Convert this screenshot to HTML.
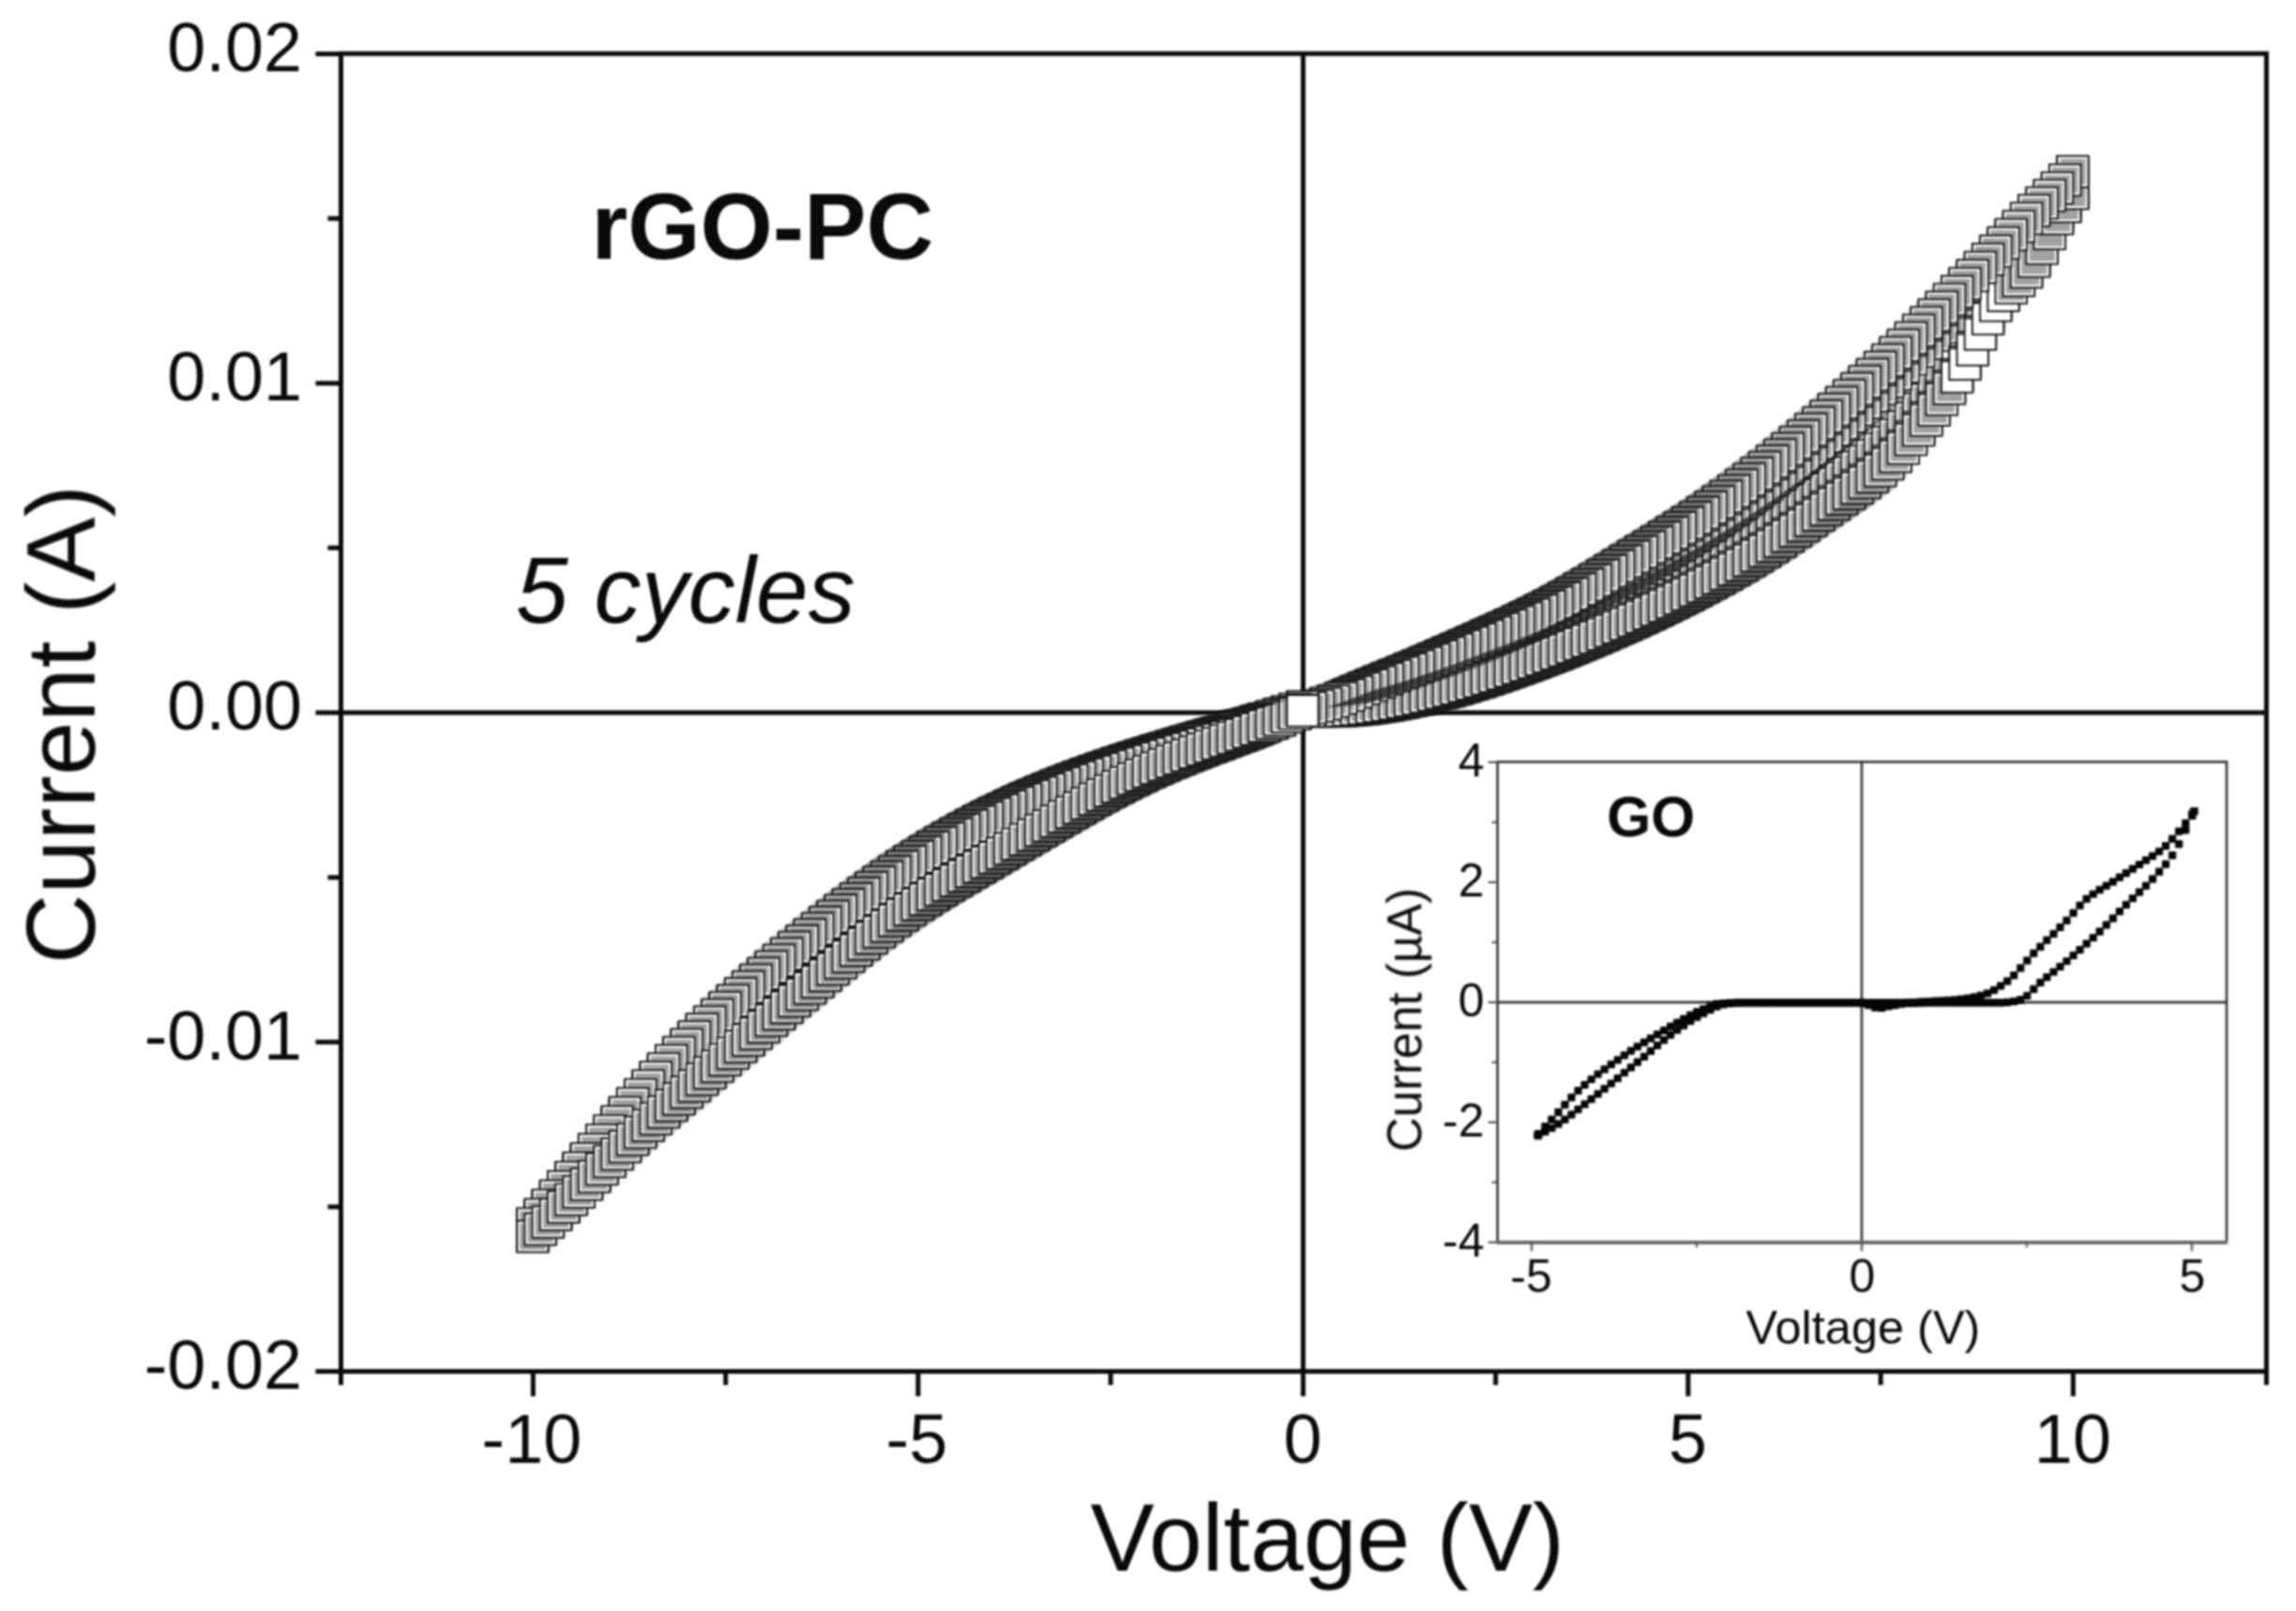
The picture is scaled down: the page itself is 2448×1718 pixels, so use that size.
<!DOCTYPE html>
<html lang="en"><head><meta charset="utf-8"><title>I-V curves: rGO-PC and GO</title>
<style>html,body{margin:0;padding:0;background:#fff}svg{display:block}text{font-family:"Liberation Sans",sans-serif;fill:#0a0a0a}.ax{stroke:#0a0a0a;stroke-width:5.0;fill:none}.iax{stroke:#333;stroke-width:2.6;fill:none}.itk{stroke:#555;stroke-width:2.2;fill:none}.tl{font-size:73.8px}.il{font-size:50px;fill:#1a1a1a}</style></head><body>
<svg width="2448" height="1718" viewBox="0 0 2448 1718" role="img" aria-label="I-V curves of rGO-PC (5 cycles) with GO inset">
<rect width="2448" height="1718" fill="#fff"/>
<defs><g id="s"><rect x="-16.8" y="-16.8" width="33.5" height="33.5" fill="#fff" stroke="#111" stroke-width="1.9"/><rect x="-13.7" y="-13.7" width="27.3" height="27.3" fill="#a2a2a2"/></g><rect id="w" x="-16.8" y="-16.8" width="33.5" height="33.5" fill="#fff" stroke="#111" stroke-width="1.9"/><rect id="d" x="-4.1" y="-4.1" width="8.2" height="8.2" rx="1.2" fill="#050505"/><filter id="b1" x="0" y="0" width="100%" height="100%" filterUnits="userSpaceOnUse" color-interpolation-filters="sRGB"><feGaussianBlur stdDeviation="0.8"/></filter><filter id="b2" x="0" y="0" width="100%" height="100%" filterUnits="userSpaceOnUse" color-interpolation-filters="sRGB"><feGaussianBlur stdDeviation="0.8"/></filter></defs>
<g filter="url(#b2)">
<g class="ax">
<rect x="363.5" y="57.2" width="2053.0" height="1405.3"/>
<path d="M1389.4 57.2V1462.5 M363.5 760.0H2416.5"/>
<path d="M568.4 1462.5v26.5 M978.9 1462.5v26.5 M1389.4 1462.5v26.5 M1799.9 1462.5v26.5 M2210.4 1462.5v26.5 M363.5 1462.5v14.5 M773.7 1462.5v14.5 M1184.2 1462.5v14.5 M1594.7 1462.5v14.5 M2005.2 1462.5v14.5 M2416.5 1462.5v14.5 M363.5 1462.6h-27 M363.5 1111.3h-27 M363.5 760h-27 M363.5 408.7h-27 M363.5 57.4h-27 M363.5 1287h-14 M363.5 935.7h-14 M363.5 584.3h-14 M363.5 233h-14"/>
</g>
<g class="tl">
<text x="322" y="75.8" text-anchor="end">0.02</text>
<text x="322" y="427.1" text-anchor="end">0.01</text>
<text x="322" y="778.4" text-anchor="end">0.00</text>
<text x="322" y="1129.7" text-anchor="end">-0.01</text>
<text x="322" y="1481" text-anchor="end">-0.02</text>
<text x="566.9" y="1560" text-anchor="middle">-10</text>
<text x="977.4" y="1560" text-anchor="middle">-5</text>
<text x="1388.9" y="1560" text-anchor="middle">0</text>
<text x="1799.4" y="1560" text-anchor="middle">5</text>
<text x="2209.9" y="1560" text-anchor="middle">10</text>
</g>
<text x="1415.3" y="1675" text-anchor="middle" font-size="102.2">Voltage (V)</text>
<text transform="translate(100.8 772.5) rotate(-90)" text-anchor="middle" font-size="103.3">Current (A)</text>
<text x="630.5" y="275.8" font-size="99.5" font-weight="bold">rGO-PC</text>
<text x="550" y="663.5" font-size="100.2" font-style="italic">5 cycles</text>
</g>
<g filter="url(#b1)">
<use href="#s" x="1389" y="758"/>
<use href="#s" x="1397.2" y="757.2"/>
<use href="#s" x="1405.4" y="756.1"/>
<use href="#s" x="1413.6" y="754.5"/>
<use href="#s" x="1421.8" y="752.5"/>
<use href="#s" x="1430" y="750.1"/>
<use href="#s" x="1438.3" y="747.3"/>
<use href="#s" x="1446.5" y="745.8"/>
<use href="#s" x="1454.7" y="744.2"/>
<use href="#s" x="1462.9" y="742.5"/>
<use href="#s" x="1471.1" y="740.8"/>
<use href="#s" x="1479.3" y="738.9"/>
<use href="#s" x="1487.5" y="736.9"/>
<use href="#s" x="1495.7" y="734.9"/>
<use href="#s" x="1503.9" y="732.7"/>
<use href="#s" x="1512.2" y="730.4"/>
<use href="#s" x="1520.4" y="728.1"/>
<use href="#s" x="1528.6" y="725.6"/>
<use href="#s" x="1536.8" y="723.1"/>
<use href="#s" x="1545" y="720.5"/>
<use href="#s" x="1553.2" y="717.8"/>
<use href="#s" x="1561.4" y="715"/>
<use href="#s" x="1569.6" y="712.2"/>
<use href="#s" x="1577.8" y="709.4"/>
<use href="#s" x="1586" y="706.4"/>
<use href="#s" x="1594.2" y="703.5"/>
<use href="#s" x="1602.5" y="700.4"/>
<use href="#s" x="1610.7" y="697.3"/>
<use href="#s" x="1618.9" y="694.2"/>
<use href="#s" x="1627.1" y="690.9"/>
<use href="#s" x="1635.3" y="687.6"/>
<use href="#s" x="1643.5" y="684.2"/>
<use href="#s" x="1651.7" y="680.8"/>
<use href="#s" x="1659.9" y="677.3"/>
<use href="#s" x="1668.1" y="673.7"/>
<use href="#s" x="1676.3" y="670"/>
<use href="#s" x="1684.6" y="666.3"/>
<use href="#s" x="1692.8" y="662.5"/>
<use href="#s" x="1701" y="658.7"/>
<use href="#s" x="1709.2" y="654.8"/>
<use href="#s" x="1717.4" y="650.8"/>
<use href="#s" x="1725.6" y="646.9"/>
<use href="#s" x="1733.8" y="642.8"/>
<use href="#s" x="1742" y="638.8"/>
<use href="#s" x="1750.2" y="634.7"/>
<use href="#s" x="1758.5" y="630.5"/>
<use href="#s" x="1766.7" y="626.3"/>
<use href="#s" x="1774.9" y="622.1"/>
<use href="#s" x="1783.1" y="617.8"/>
<use href="#s" x="1791.3" y="613.4"/>
<use href="#s" x="1799.5" y="609"/>
<use href="#s" x="1807.7" y="604.4"/>
<use href="#s" x="1815.9" y="599.8"/>
<use href="#s" x="1824.1" y="595.1"/>
<use href="#s" x="1832.3" y="590.3"/>
<use href="#s" x="1840.5" y="585.4"/>
<use href="#s" x="1848.8" y="580.4"/>
<use href="#s" x="1857" y="575.4"/>
<use href="#s" x="1865.2" y="570.2"/>
<use href="#s" x="1873.4" y="564.8"/>
<use href="#s" x="1881.6" y="559.4"/>
<use href="#s" x="1889.8" y="553.9"/>
<use href="#s" x="1898" y="548.3"/>
<use href="#s" x="1906.2" y="542.5"/>
<use href="#s" x="1914.4" y="536.7"/>
<use href="#s" x="1922.7" y="530.7"/>
<use href="#s" x="1930.9" y="524.7"/>
<use href="#s" x="1939.1" y="518.7"/>
<use href="#s" x="1947.3" y="512.6"/>
<use href="#s" x="1955.5" y="506.5"/>
<use href="#s" x="1963.7" y="500.4"/>
<use href="#s" x="1971.9" y="494.3"/>
<use href="#s" x="1980.1" y="488.1"/>
<use href="#s" x="1988.3" y="481.8"/>
<use href="#s" x="1996.5" y="475.3"/>
<use href="#s" x="2004.8" y="468.4"/>
<use href="#s" x="2013" y="461"/>
<use href="#s" x="2021.2" y="453.1"/>
<use href="#s" x="2029.4" y="444.7"/>
<use href="#s" x="2037.6" y="435.6"/>
<use href="#s" x="2045.8" y="426.1"/>
<use href="#s" x="2054" y="416.2"/>
<use href="#s" x="2062.2" y="406"/>
<use href="#s" x="2070.4" y="395.5"/>
<use href="#s" x="2078.6" y="384.6"/>
<use href="#w" x="2086.8" y="373.3"/>
<use href="#w" x="2095.1" y="360.9"/>
<use href="#w" x="2103.3" y="347.3"/>
<use href="#w" x="2111.5" y="332.6"/>
<use href="#w" x="2119.7" y="318.2"/>
<use href="#w" x="2127.9" y="305.4"/>
<use href="#w" x="2136.1" y="296.2"/>
<use href="#s" x="2144.3" y="288.8"/>
<use href="#s" x="2152.5" y="281.9"/>
<use href="#s" x="2160.7" y="273.9"/>
<use href="#s" x="2168.9" y="264"/>
<use href="#s" x="2177.2" y="252.2"/>
<use href="#s" x="2185.4" y="238.7"/>
<use href="#s" x="2193.6" y="224.7"/>
<use href="#s" x="2201.8" y="213.2"/>
<use href="#s" x="2210" y="200.5"/>
<use href="#s" x="2210" y="189"/>
<use href="#s" x="2201.8" y="199.3"/>
<use href="#s" x="2193.6" y="209"/>
<use href="#s" x="2185.4" y="219"/>
<use href="#s" x="2177.2" y="229.2"/>
<use href="#s" x="2168.9" y="239.3"/>
<use href="#s" x="2160.7" y="249.2"/>
<use href="#s" x="2152.5" y="258.9"/>
<use href="#s" x="2144.3" y="268.5"/>
<use href="#s" x="2136.1" y="278.1"/>
<use href="#s" x="2127.9" y="288.4"/>
<use href="#s" x="2119.7" y="298.5"/>
<use href="#s" x="2111.5" y="309.1"/>
<use href="#s" x="2103.3" y="319.7"/>
<use href="#s" x="2095.1" y="330"/>
<use href="#s" x="2086.8" y="339.7"/>
<use href="#s" x="2078.6" y="349.1"/>
<use href="#s" x="2070.4" y="358.3"/>
<use href="#s" x="2062.2" y="367.3"/>
<use href="#s" x="2054" y="376.2"/>
<use href="#s" x="2045.8" y="384.9"/>
<use href="#s" x="2037.6" y="393.5"/>
<use href="#s" x="2029.4" y="401.8"/>
<use href="#s" x="2021.2" y="409.9"/>
<use href="#s" x="2013" y="417.7"/>
<use href="#s" x="2004.8" y="425.3"/>
<use href="#s" x="1996.5" y="432.7"/>
<use href="#s" x="1988.3" y="440"/>
<use href="#s" x="1980.1" y="447.1"/>
<use href="#s" x="1971.9" y="454.1"/>
<use href="#s" x="1963.7" y="461.1"/>
<use href="#s" x="1955.5" y="467.9"/>
<use href="#s" x="1947.3" y="474.8"/>
<use href="#s" x="1939.1" y="481.6"/>
<use href="#s" x="1930.9" y="488.3"/>
<use href="#s" x="1922.7" y="494.9"/>
<use href="#s" x="1914.4" y="501.5"/>
<use href="#s" x="1906.2" y="507.9"/>
<use href="#s" x="1898" y="514.3"/>
<use href="#s" x="1889.8" y="520.6"/>
<use href="#s" x="1881.6" y="526.8"/>
<use href="#s" x="1873.4" y="532.9"/>
<use href="#s" x="1865.2" y="538.8"/>
<use href="#s" x="1857" y="544.7"/>
<use href="#s" x="1848.8" y="550.5"/>
<use href="#s" x="1840.5" y="556.1"/>
<use href="#s" x="1832.3" y="561.6"/>
<use href="#s" x="1824.1" y="567"/>
<use href="#s" x="1815.9" y="572.4"/>
<use href="#s" x="1807.7" y="577.6"/>
<use href="#s" x="1799.5" y="582.7"/>
<use href="#s" x="1791.3" y="587.7"/>
<use href="#s" x="1783.1" y="592.6"/>
<use href="#s" x="1774.9" y="597.5"/>
<use href="#s" x="1766.7" y="602.3"/>
<use href="#s" x="1758.5" y="607.1"/>
<use href="#s" x="1750.2" y="611.8"/>
<use href="#s" x="1742" y="616.6"/>
<use href="#s" x="1733.8" y="621.3"/>
<use href="#s" x="1725.6" y="626"/>
<use href="#s" x="1717.4" y="630.7"/>
<use href="#s" x="1709.2" y="635.3"/>
<use href="#s" x="1701" y="639.9"/>
<use href="#s" x="1692.8" y="644.5"/>
<use href="#s" x="1684.6" y="649"/>
<use href="#s" x="1676.3" y="653.4"/>
<use href="#s" x="1668.1" y="657.7"/>
<use href="#s" x="1659.9" y="662"/>
<use href="#s" x="1651.7" y="666.1"/>
<use href="#s" x="1643.5" y="670.1"/>
<use href="#s" x="1635.3" y="674"/>
<use href="#s" x="1627.1" y="677.8"/>
<use href="#s" x="1618.9" y="681.5"/>
<use href="#s" x="1610.7" y="685.1"/>
<use href="#s" x="1602.5" y="688.6"/>
<use href="#s" x="1594.2" y="692.1"/>
<use href="#s" x="1586" y="695.5"/>
<use href="#s" x="1577.8" y="698.9"/>
<use href="#s" x="1569.6" y="702.3"/>
<use href="#s" x="1561.4" y="705.6"/>
<use href="#s" x="1553.2" y="709"/>
<use href="#s" x="1545" y="712.3"/>
<use href="#s" x="1536.8" y="715.5"/>
<use href="#s" x="1528.6" y="718.8"/>
<use href="#s" x="1520.4" y="721.9"/>
<use href="#s" x="1512.2" y="725.1"/>
<use href="#s" x="1503.9" y="728.1"/>
<use href="#s" x="1495.7" y="731.1"/>
<use href="#s" x="1487.5" y="734"/>
<use href="#s" x="1479.3" y="736.9"/>
<use href="#s" x="1471.1" y="739.8"/>
<use href="#s" x="1462.9" y="742.7"/>
<use href="#s" x="1454.7" y="745.6"/>
<use href="#s" x="1446.5" y="748.4"/>
<use href="#s" x="1438.3" y="751.3"/>
<use href="#s" x="1430" y="752.4"/>
<use href="#s" x="1421.8" y="753.5"/>
<use href="#s" x="1413.6" y="754.5"/>
<use href="#s" x="1405.4" y="755.4"/>
<use href="#s" x="1397.2" y="756.1"/>
<use href="#s" x="1389" y="756.7"/>
<use href="#s" x="1389" y="753.8"/>
<use href="#s" x="1380.8" y="757.2"/>
<use href="#s" x="1372.6" y="760.6"/>
<use href="#s" x="1364.4" y="763.9"/>
<use href="#s" x="1356.2" y="767.1"/>
<use href="#s" x="1348" y="770.3"/>
<use href="#s" x="1339.7" y="773.5"/>
<use href="#s" x="1331.5" y="776"/>
<use href="#s" x="1323.3" y="778.4"/>
<use href="#s" x="1315.1" y="780.9"/>
<use href="#s" x="1306.9" y="783.3"/>
<use href="#s" x="1298.7" y="785.7"/>
<use href="#s" x="1290.5" y="788.1"/>
<use href="#s" x="1282.3" y="790.5"/>
<use href="#s" x="1274.1" y="792.9"/>
<use href="#s" x="1265.8" y="795.3"/>
<use href="#s" x="1257.6" y="797.7"/>
<use href="#s" x="1249.4" y="800.2"/>
<use href="#s" x="1241.2" y="802.7"/>
<use href="#s" x="1233" y="805.2"/>
<use href="#s" x="1224.8" y="807.7"/>
<use href="#s" x="1216.6" y="810.3"/>
<use href="#s" x="1208.4" y="812.9"/>
<use href="#s" x="1200.2" y="815.6"/>
<use href="#s" x="1192" y="818.3"/>
<use href="#s" x="1183.8" y="821.1"/>
<use href="#s" x="1175.5" y="824"/>
<use href="#s" x="1167.3" y="826.9"/>
<use href="#s" x="1159.1" y="829.8"/>
<use href="#s" x="1150.9" y="832.9"/>
<use href="#s" x="1142.7" y="836"/>
<use href="#s" x="1134.5" y="839.2"/>
<use href="#s" x="1126.3" y="842.4"/>
<use href="#s" x="1118.1" y="845.8"/>
<use href="#s" x="1109.9" y="849.2"/>
<use href="#s" x="1101.7" y="852.8"/>
<use href="#s" x="1093.4" y="856.4"/>
<use href="#s" x="1085.2" y="860.1"/>
<use href="#s" x="1077" y="863.9"/>
<use href="#s" x="1068.8" y="867.8"/>
<use href="#s" x="1060.6" y="871.8"/>
<use href="#s" x="1052.4" y="875.9"/>
<use href="#s" x="1044.2" y="880.1"/>
<use href="#s" x="1036" y="884.4"/>
<use href="#s" x="1027.8" y="888.8"/>
<use href="#s" x="1019.5" y="893.4"/>
<use href="#s" x="1011.3" y="898"/>
<use href="#s" x="1003.1" y="902.8"/>
<use href="#s" x="994.9" y="907.6"/>
<use href="#s" x="986.7" y="912.6"/>
<use href="#s" x="978.5" y="917.7"/>
<use href="#s" x="970.3" y="922.9"/>
<use href="#s" x="962.1" y="928.3"/>
<use href="#s" x="953.9" y="933.7"/>
<use href="#s" x="945.7" y="939.3"/>
<use href="#s" x="937.5" y="944.9"/>
<use href="#s" x="929.2" y="950.7"/>
<use href="#s" x="921" y="956.7"/>
<use href="#s" x="912.8" y="962.7"/>
<use href="#s" x="904.6" y="968.8"/>
<use href="#s" x="896.4" y="975"/>
<use href="#s" x="888.2" y="981.4"/>
<use href="#s" x="880" y="987.8"/>
<use href="#s" x="871.8" y="994.4"/>
<use href="#s" x="863.6" y="1001"/>
<use href="#s" x="855.4" y="1007.7"/>
<use href="#s" x="847.1" y="1014.5"/>
<use href="#s" x="838.9" y="1021.3"/>
<use href="#s" x="830.7" y="1028.2"/>
<use href="#s" x="822.5" y="1035.2"/>
<use href="#s" x="814.3" y="1042.3"/>
<use href="#s" x="806.1" y="1049.4"/>
<use href="#s" x="797.9" y="1056.6"/>
<use href="#s" x="789.7" y="1063.8"/>
<use href="#s" x="781.5" y="1071.2"/>
<use href="#s" x="773.2" y="1078.7"/>
<use href="#s" x="765" y="1086.3"/>
<use href="#s" x="756.8" y="1094"/>
<use href="#s" x="748.6" y="1101.8"/>
<use href="#s" x="740.4" y="1109.9"/>
<use href="#s" x="732.2" y="1118.1"/>
<use href="#s" x="724" y="1126.5"/>
<use href="#s" x="715.8" y="1135.1"/>
<use href="#s" x="707.6" y="1144"/>
<use href="#s" x="699.4" y="1153"/>
<use href="#s" x="691.2" y="1162.1"/>
<use href="#s" x="682.9" y="1171.5"/>
<use href="#s" x="674.7" y="1181"/>
<use href="#s" x="666.5" y="1190.6"/>
<use href="#s" x="658.3" y="1200.3"/>
<use href="#s" x="650.1" y="1210.1"/>
<use href="#s" x="641.9" y="1220"/>
<use href="#s" x="633.7" y="1229.9"/>
<use href="#s" x="625.5" y="1239.8"/>
<use href="#s" x="617.3" y="1249.7"/>
<use href="#s" x="609.1" y="1259.7"/>
<use href="#s" x="600.8" y="1269.6"/>
<use href="#s" x="592.6" y="1279.5"/>
<use href="#s" x="584.4" y="1289.4"/>
<use href="#s" x="576.2" y="1299.3"/>
<use href="#s" x="568" y="1309.2"/>
<use href="#s" x="568" y="1314.7"/>
<use href="#s" x="576.2" y="1307"/>
<use href="#s" x="584.4" y="1299.2"/>
<use href="#s" x="592.6" y="1291.3"/>
<use href="#s" x="600.8" y="1283.3"/>
<use href="#s" x="609.1" y="1275.3"/>
<use href="#s" x="617.3" y="1267.2"/>
<use href="#s" x="625.5" y="1259"/>
<use href="#s" x="633.7" y="1250.8"/>
<use href="#s" x="641.9" y="1242.7"/>
<use href="#s" x="650.1" y="1234.6"/>
<use href="#s" x="658.3" y="1226.7"/>
<use href="#s" x="666.5" y="1218.8"/>
<use href="#s" x="674.7" y="1211.1"/>
<use href="#s" x="682.9" y="1203.6"/>
<use href="#s" x="691.2" y="1196.2"/>
<use href="#s" x="699.4" y="1189"/>
<use href="#s" x="707.6" y="1181.9"/>
<use href="#s" x="715.8" y="1174.8"/>
<use href="#s" x="724" y="1167.9"/>
<use href="#s" x="732.2" y="1160.9"/>
<use href="#s" x="740.4" y="1154"/>
<use href="#s" x="748.6" y="1147"/>
<use href="#s" x="756.8" y="1140.1"/>
<use href="#s" x="765" y="1133.1"/>
<use href="#s" x="773.2" y="1126.1"/>
<use href="#s" x="781.5" y="1119.1"/>
<use href="#s" x="789.7" y="1112.1"/>
<use href="#s" x="797.9" y="1105.1"/>
<use href="#s" x="806.1" y="1098.1"/>
<use href="#s" x="814.3" y="1091.1"/>
<use href="#s" x="822.5" y="1084.1"/>
<use href="#s" x="830.7" y="1077.2"/>
<use href="#s" x="838.9" y="1070.3"/>
<use href="#s" x="847.1" y="1063.4"/>
<use href="#s" x="855.4" y="1056.6"/>
<use href="#s" x="863.6" y="1049.8"/>
<use href="#s" x="871.8" y="1043"/>
<use href="#s" x="880" y="1036.2"/>
<use href="#s" x="888.2" y="1029.4"/>
<use href="#s" x="896.4" y="1022.7"/>
<use href="#s" x="904.6" y="1016"/>
<use href="#s" x="912.8" y="1009.3"/>
<use href="#s" x="921" y="1002.7"/>
<use href="#s" x="929.2" y="996.2"/>
<use href="#s" x="937.5" y="989.8"/>
<use href="#s" x="945.7" y="983.6"/>
<use href="#s" x="953.9" y="977.6"/>
<use href="#s" x="962.1" y="971.7"/>
<use href="#s" x="970.3" y="966"/>
<use href="#s" x="978.5" y="960.5"/>
<use href="#s" x="986.7" y="955.2"/>
<use href="#s" x="994.9" y="950"/>
<use href="#s" x="1003.1" y="945"/>
<use href="#s" x="1011.3" y="940"/>
<use href="#s" x="1019.5" y="935.1"/>
<use href="#s" x="1027.8" y="930.2"/>
<use href="#s" x="1036" y="925.4"/>
<use href="#s" x="1044.2" y="920.5"/>
<use href="#s" x="1052.4" y="915.7"/>
<use href="#s" x="1060.6" y="910.8"/>
<use href="#s" x="1068.8" y="906"/>
<use href="#s" x="1077" y="901.1"/>
<use href="#s" x="1085.2" y="896.2"/>
<use href="#s" x="1093.4" y="891.4"/>
<use href="#s" x="1101.7" y="886.5"/>
<use href="#s" x="1109.9" y="881.6"/>
<use href="#s" x="1118.1" y="876.8"/>
<use href="#s" x="1126.3" y="871.9"/>
<use href="#s" x="1134.5" y="867.1"/>
<use href="#s" x="1142.7" y="862.4"/>
<use href="#s" x="1150.9" y="857.6"/>
<use href="#s" x="1159.1" y="853"/>
<use href="#s" x="1167.3" y="848.3"/>
<use href="#s" x="1175.5" y="843.8"/>
<use href="#s" x="1183.8" y="839.4"/>
<use href="#s" x="1192" y="835"/>
<use href="#s" x="1200.2" y="830.8"/>
<use href="#s" x="1208.4" y="826.7"/>
<use href="#s" x="1216.6" y="822.7"/>
<use href="#s" x="1224.8" y="818.9"/>
<use href="#s" x="1233" y="815.2"/>
<use href="#s" x="1241.2" y="811.6"/>
<use href="#s" x="1249.4" y="808.1"/>
<use href="#s" x="1257.6" y="804.8"/>
<use href="#s" x="1265.8" y="801.5"/>
<use href="#s" x="1274.1" y="798.3"/>
<use href="#s" x="1282.3" y="795.2"/>
<use href="#s" x="1290.5" y="792.1"/>
<use href="#s" x="1298.7" y="789"/>
<use href="#s" x="1306.9" y="786"/>
<use href="#s" x="1315.1" y="782.9"/>
<use href="#s" x="1323.3" y="779.8"/>
<use href="#s" x="1331.5" y="776.7"/>
<use href="#s" x="1339.7" y="773.6"/>
<use href="#s" x="1348" y="771"/>
<use href="#s" x="1356.2" y="768.4"/>
<use href="#s" x="1364.4" y="765.7"/>
<use href="#s" x="1372.6" y="763"/>
<use href="#s" x="1380.8" y="760.2"/>
<use href="#s" x="1389" y="757.3"/>
<use href="#s" x="1389" y="758"/>
<use href="#s" x="1397.2" y="757.6"/>
<use href="#s" x="1405.4" y="757"/>
<use href="#s" x="1413.6" y="756.3"/>
<use href="#s" x="1421.8" y="755.3"/>
<use href="#s" x="1430" y="754.1"/>
<use href="#s" x="1438.3" y="752.8"/>
<use href="#s" x="1446.5" y="752"/>
<use href="#s" x="1454.7" y="751.1"/>
<use href="#s" x="1462.9" y="750"/>
<use href="#s" x="1471.1" y="748.7"/>
<use href="#s" x="1479.3" y="747.4"/>
<use href="#s" x="1487.5" y="745.9"/>
<use href="#s" x="1495.7" y="744.2"/>
<use href="#s" x="1503.9" y="742.5"/>
<use href="#s" x="1512.2" y="740.6"/>
<use href="#s" x="1520.4" y="738.6"/>
<use href="#s" x="1528.6" y="736.5"/>
<use href="#s" x="1536.8" y="734.3"/>
<use href="#s" x="1545" y="732.1"/>
<use href="#s" x="1553.2" y="729.7"/>
<use href="#s" x="1561.4" y="727.2"/>
<use href="#s" x="1569.6" y="724.7"/>
<use href="#s" x="1577.8" y="722.1"/>
<use href="#s" x="1586" y="719.4"/>
<use href="#s" x="1594.2" y="716.7"/>
<use href="#s" x="1602.5" y="713.8"/>
<use href="#s" x="1610.7" y="710.9"/>
<use href="#s" x="1618.9" y="708"/>
<use href="#s" x="1627.1" y="705"/>
<use href="#s" x="1635.3" y="701.9"/>
<use href="#s" x="1643.5" y="698.8"/>
<use href="#s" x="1651.7" y="695.6"/>
<use href="#s" x="1659.9" y="692.4"/>
<use href="#s" x="1668.1" y="689.1"/>
<use href="#s" x="1676.3" y="685.8"/>
<use href="#s" x="1684.6" y="682.4"/>
<use href="#s" x="1692.8" y="679"/>
<use href="#s" x="1701" y="675.5"/>
<use href="#s" x="1709.2" y="672"/>
<use href="#s" x="1717.4" y="668.4"/>
<use href="#s" x="1725.6" y="664.8"/>
<use href="#s" x="1733.8" y="661.1"/>
<use href="#s" x="1742" y="657.4"/>
<use href="#s" x="1750.2" y="653.6"/>
<use href="#s" x="1758.5" y="649.8"/>
<use href="#s" x="1766.7" y="645.9"/>
<use href="#s" x="1774.9" y="641.9"/>
<use href="#s" x="1783.1" y="637.9"/>
<use href="#s" x="1791.3" y="633.8"/>
<use href="#s" x="1799.5" y="629.6"/>
<use href="#s" x="1807.7" y="625.4"/>
<use href="#s" x="1815.9" y="621"/>
<use href="#s" x="1824.1" y="616.6"/>
<use href="#s" x="1832.3" y="612.2"/>
<use href="#s" x="1840.5" y="607.6"/>
<use href="#s" x="1848.8" y="602.9"/>
<use href="#s" x="1857" y="598.2"/>
<use href="#s" x="1865.2" y="593.3"/>
<use href="#s" x="1873.4" y="588.3"/>
<use href="#s" x="1881.6" y="583.3"/>
<use href="#s" x="1889.8" y="578.1"/>
<use href="#s" x="1898" y="572.7"/>
<use href="#s" x="1906.2" y="567.3"/>
<use href="#s" x="1914.4" y="561.8"/>
<use href="#s" x="1922.7" y="556.1"/>
<use href="#s" x="1930.9" y="550.5"/>
<use href="#s" x="1939.1" y="544.7"/>
<use href="#s" x="1947.3" y="539"/>
<use href="#s" x="1955.5" y="533.2"/>
<use href="#s" x="1963.7" y="527.5"/>
<use href="#s" x="1971.9" y="521.9"/>
<use href="#s" x="1980.1" y="516.1"/>
<use href="#s" x="1988.3" y="510.2"/>
<use href="#s" x="1996.5" y="504"/>
<use href="#s" x="2004.8" y="497.4"/>
<use href="#s" x="2013" y="490.2"/>
<use href="#s" x="2021.2" y="482.3"/>
<use href="#s" x="2029.4" y="473.6"/>
<use href="#s" x="2037.6" y="464.2"/>
<use href="#s" x="2045.8" y="454.2"/>
<use href="#s" x="2054" y="443.7"/>
<use href="#s" x="2062.2" y="432.8"/>
<use href="#s" x="2070.4" y="421.5"/>
<use href="#s" x="2078.6" y="409.9"/>
<use href="#w" x="2086.8" y="397.5"/>
<use href="#w" x="2095.1" y="383.9"/>
<use href="#w" x="2103.3" y="368.6"/>
<use href="#w" x="2111.5" y="351.9"/>
<use href="#w" x="2119.7" y="335.5"/>
<use href="#w" x="2127.9" y="321.4"/>
<use href="#w" x="2136.1" y="310.9"/>
<use href="#s" x="2144.3" y="302.9"/>
<use href="#s" x="2152.5" y="295.4"/>
<use href="#s" x="2160.7" y="286.5"/>
<use href="#s" x="2168.9" y="275.3"/>
<use href="#s" x="2177.2" y="261.7"/>
<use href="#s" x="2185.4" y="246.2"/>
<use href="#s" x="2193.6" y="230.5"/>
<use href="#s" x="2201.8" y="218"/>
<use href="#s" x="2210" y="204.1"/>
<use href="#s" x="2210" y="185.3"/>
<use href="#s" x="2201.8" y="194.6"/>
<use href="#s" x="2193.6" y="203.2"/>
<use href="#s" x="2185.4" y="211.5"/>
<use href="#s" x="2177.2" y="219.7"/>
<use href="#s" x="2168.9" y="228"/>
<use href="#s" x="2160.7" y="236.6"/>
<use href="#s" x="2152.5" y="245.4"/>
<use href="#s" x="2144.3" y="254.3"/>
<use href="#s" x="2136.1" y="263.4"/>
<use href="#s" x="2127.9" y="272.4"/>
<use href="#s" x="2119.7" y="281.1"/>
<use href="#s" x="2111.5" y="289.8"/>
<use href="#s" x="2103.3" y="298.4"/>
<use href="#s" x="2095.1" y="307"/>
<use href="#s" x="2086.8" y="315.5"/>
<use href="#s" x="2078.6" y="323.9"/>
<use href="#s" x="2070.4" y="332.2"/>
<use href="#s" x="2062.2" y="340.5"/>
<use href="#s" x="2054" y="348.7"/>
<use href="#s" x="2045.8" y="356.8"/>
<use href="#s" x="2037.6" y="364.9"/>
<use href="#s" x="2029.4" y="372.8"/>
<use href="#s" x="2021.2" y="380.7"/>
<use href="#s" x="2013" y="388.6"/>
<use href="#s" x="2004.8" y="396.3"/>
<use href="#s" x="1996.5" y="404"/>
<use href="#s" x="1988.3" y="411.6"/>
<use href="#s" x="1980.1" y="419.1"/>
<use href="#s" x="1971.9" y="426.5"/>
<use href="#s" x="1963.7" y="433.9"/>
<use href="#s" x="1955.5" y="441.2"/>
<use href="#s" x="1947.3" y="448.4"/>
<use href="#s" x="1939.1" y="455.5"/>
<use href="#s" x="1930.9" y="462.5"/>
<use href="#s" x="1922.7" y="469.5"/>
<use href="#s" x="1914.4" y="476.4"/>
<use href="#s" x="1906.2" y="483.1"/>
<use href="#s" x="1898" y="489.8"/>
<use href="#s" x="1889.8" y="496.4"/>
<use href="#s" x="1881.6" y="503"/>
<use href="#s" x="1873.4" y="509.4"/>
<use href="#s" x="1865.2" y="515.7"/>
<use href="#s" x="1857" y="521.9"/>
<use href="#s" x="1848.8" y="528"/>
<use href="#s" x="1840.5" y="533.9"/>
<use href="#s" x="1832.3" y="539.8"/>
<use href="#s" x="1824.1" y="545.5"/>
<use href="#s" x="1815.9" y="551.1"/>
<use href="#s" x="1807.7" y="556.6"/>
<use href="#s" x="1799.5" y="562"/>
<use href="#s" x="1791.3" y="567.3"/>
<use href="#s" x="1783.1" y="572.5"/>
<use href="#s" x="1774.9" y="577.7"/>
<use href="#s" x="1766.7" y="582.8"/>
<use href="#s" x="1758.5" y="587.9"/>
<use href="#s" x="1750.2" y="592.9"/>
<use href="#s" x="1742" y="598"/>
<use href="#s" x="1733.8" y="603"/>
<use href="#s" x="1725.6" y="608"/>
<use href="#s" x="1717.4" y="613.1"/>
<use href="#s" x="1709.2" y="618.1"/>
<use href="#s" x="1701" y="623.1"/>
<use href="#s" x="1692.8" y="628"/>
<use href="#s" x="1684.6" y="632.8"/>
<use href="#s" x="1676.3" y="637.6"/>
<use href="#s" x="1668.1" y="642.3"/>
<use href="#s" x="1659.9" y="646.8"/>
<use href="#s" x="1651.7" y="651.2"/>
<use href="#s" x="1643.5" y="655.5"/>
<use href="#s" x="1635.3" y="659.7"/>
<use href="#s" x="1627.1" y="663.7"/>
<use href="#s" x="1618.9" y="667.6"/>
<use href="#s" x="1610.7" y="671.4"/>
<use href="#s" x="1602.5" y="675.2"/>
<use href="#s" x="1594.2" y="678.9"/>
<use href="#s" x="1586" y="682.6"/>
<use href="#s" x="1577.8" y="686.2"/>
<use href="#s" x="1569.6" y="689.8"/>
<use href="#s" x="1561.4" y="693.4"/>
<use href="#s" x="1553.2" y="697.1"/>
<use href="#s" x="1545" y="700.7"/>
<use href="#s" x="1536.8" y="704.3"/>
<use href="#s" x="1528.6" y="707.8"/>
<use href="#s" x="1520.4" y="711.4"/>
<use href="#s" x="1512.2" y="714.9"/>
<use href="#s" x="1503.9" y="718.3"/>
<use href="#s" x="1495.7" y="721.7"/>
<use href="#s" x="1487.5" y="725.1"/>
<use href="#s" x="1479.3" y="728.4"/>
<use href="#s" x="1471.1" y="731.8"/>
<use href="#s" x="1462.9" y="735.2"/>
<use href="#s" x="1454.7" y="738.7"/>
<use href="#s" x="1446.5" y="742.3"/>
<use href="#s" x="1438.3" y="745.8"/>
<use href="#s" x="1430" y="748.4"/>
<use href="#s" x="1421.8" y="750.8"/>
<use href="#s" x="1413.6" y="752.8"/>
<use href="#s" x="1405.4" y="754.4"/>
<use href="#s" x="1397.2" y="755.7"/>
<use href="#s" x="1389" y="756.7"/>
<use href="#s" x="1389" y="753.8"/>
<use href="#s" x="1380.8" y="757"/>
<use href="#s" x="1372.6" y="760.2"/>
<use href="#s" x="1364.4" y="763.4"/>
<use href="#s" x="1356.2" y="766.5"/>
<use href="#s" x="1348" y="769.5"/>
<use href="#s" x="1339.7" y="772.5"/>
<use href="#s" x="1331.5" y="775"/>
<use href="#s" x="1323.3" y="777.4"/>
<use href="#s" x="1315.1" y="779.9"/>
<use href="#s" x="1306.9" y="782.3"/>
<use href="#s" x="1298.7" y="784.7"/>
<use href="#s" x="1290.5" y="787.1"/>
<use href="#s" x="1282.3" y="789.5"/>
<use href="#s" x="1274.1" y="791.9"/>
<use href="#s" x="1265.8" y="794.3"/>
<use href="#s" x="1257.6" y="796.7"/>
<use href="#s" x="1249.4" y="799.2"/>
<use href="#s" x="1241.2" y="801.7"/>
<use href="#s" x="1233" y="804.2"/>
<use href="#s" x="1224.8" y="806.7"/>
<use href="#s" x="1216.6" y="809.3"/>
<use href="#s" x="1208.4" y="811.9"/>
<use href="#s" x="1200.2" y="814.6"/>
<use href="#s" x="1192" y="817.3"/>
<use href="#s" x="1183.8" y="820.1"/>
<use href="#s" x="1175.5" y="823"/>
<use href="#s" x="1167.3" y="825.9"/>
<use href="#s" x="1159.1" y="828.8"/>
<use href="#s" x="1150.9" y="831.9"/>
<use href="#s" x="1142.7" y="835"/>
<use href="#s" x="1134.5" y="838.2"/>
<use href="#s" x="1126.3" y="841.4"/>
<use href="#s" x="1118.1" y="844.8"/>
<use href="#s" x="1109.9" y="848.2"/>
<use href="#s" x="1101.7" y="851.8"/>
<use href="#s" x="1093.4" y="855.4"/>
<use href="#s" x="1085.2" y="859.1"/>
<use href="#s" x="1077" y="862.9"/>
<use href="#s" x="1068.8" y="866.8"/>
<use href="#s" x="1060.6" y="870.8"/>
<use href="#s" x="1052.4" y="874.9"/>
<use href="#s" x="1044.2" y="879.1"/>
<use href="#s" x="1036" y="883.4"/>
<use href="#s" x="1027.8" y="887.8"/>
<use href="#s" x="1019.5" y="892.4"/>
<use href="#s" x="1011.3" y="897"/>
<use href="#s" x="1003.1" y="901.8"/>
<use href="#s" x="994.9" y="906.6"/>
<use href="#s" x="986.7" y="911.6"/>
<use href="#s" x="978.5" y="916.7"/>
<use href="#s" x="970.3" y="921.9"/>
<use href="#s" x="962.1" y="927.3"/>
<use href="#s" x="953.9" y="932.7"/>
<use href="#s" x="945.7" y="938.3"/>
<use href="#s" x="937.5" y="943.9"/>
<use href="#s" x="929.2" y="949.7"/>
<use href="#s" x="921" y="955.7"/>
<use href="#s" x="912.8" y="961.7"/>
<use href="#s" x="904.6" y="967.8"/>
<use href="#s" x="896.4" y="974"/>
<use href="#s" x="888.2" y="980.4"/>
<use href="#s" x="880" y="986.8"/>
<use href="#s" x="871.8" y="993.4"/>
<use href="#s" x="863.6" y="1000"/>
<use href="#s" x="855.4" y="1006.7"/>
<use href="#s" x="847.1" y="1013.5"/>
<use href="#s" x="838.9" y="1020.3"/>
<use href="#s" x="830.7" y="1027.2"/>
<use href="#s" x="822.5" y="1034.2"/>
<use href="#s" x="814.3" y="1041.3"/>
<use href="#s" x="806.1" y="1048.4"/>
<use href="#s" x="797.9" y="1055.6"/>
<use href="#s" x="789.7" y="1062.8"/>
<use href="#s" x="781.5" y="1070.2"/>
<use href="#s" x="773.2" y="1077.7"/>
<use href="#s" x="765" y="1085.3"/>
<use href="#s" x="756.8" y="1093"/>
<use href="#s" x="748.6" y="1100.8"/>
<use href="#s" x="740.4" y="1108.9"/>
<use href="#s" x="732.2" y="1117.1"/>
<use href="#s" x="724" y="1125.5"/>
<use href="#s" x="715.8" y="1134.1"/>
<use href="#s" x="707.6" y="1143"/>
<use href="#s" x="699.4" y="1152"/>
<use href="#s" x="691.2" y="1161.1"/>
<use href="#s" x="682.9" y="1170.5"/>
<use href="#s" x="674.7" y="1180"/>
<use href="#s" x="666.5" y="1189.6"/>
<use href="#s" x="658.3" y="1199.3"/>
<use href="#s" x="650.1" y="1209.1"/>
<use href="#s" x="641.9" y="1219"/>
<use href="#s" x="633.7" y="1228.9"/>
<use href="#s" x="625.5" y="1238.8"/>
<use href="#s" x="617.3" y="1248.7"/>
<use href="#s" x="609.1" y="1258.7"/>
<use href="#s" x="600.8" y="1268.6"/>
<use href="#s" x="592.6" y="1278.5"/>
<use href="#s" x="584.4" y="1288.4"/>
<use href="#s" x="576.2" y="1298.3"/>
<use href="#s" x="568" y="1308.2"/>
<use href="#s" x="568" y="1315.7"/>
<use href="#s" x="576.2" y="1308"/>
<use href="#s" x="584.4" y="1300.2"/>
<use href="#s" x="592.6" y="1292.3"/>
<use href="#s" x="600.8" y="1284.3"/>
<use href="#s" x="609.1" y="1276.3"/>
<use href="#s" x="617.3" y="1268.2"/>
<use href="#s" x="625.5" y="1260"/>
<use href="#s" x="633.7" y="1251.8"/>
<use href="#s" x="641.9" y="1243.7"/>
<use href="#s" x="650.1" y="1235.6"/>
<use href="#s" x="658.3" y="1227.7"/>
<use href="#s" x="666.5" y="1219.8"/>
<use href="#s" x="674.7" y="1212.1"/>
<use href="#s" x="682.9" y="1204.6"/>
<use href="#s" x="691.2" y="1197.2"/>
<use href="#s" x="699.4" y="1190"/>
<use href="#s" x="707.6" y="1182.9"/>
<use href="#s" x="715.8" y="1175.8"/>
<use href="#s" x="724" y="1168.9"/>
<use href="#s" x="732.2" y="1161.9"/>
<use href="#s" x="740.4" y="1155"/>
<use href="#s" x="748.6" y="1148"/>
<use href="#s" x="756.8" y="1141.1"/>
<use href="#s" x="765" y="1134.1"/>
<use href="#s" x="773.2" y="1127.1"/>
<use href="#s" x="781.5" y="1120.1"/>
<use href="#s" x="789.7" y="1113.1"/>
<use href="#s" x="797.9" y="1106.1"/>
<use href="#s" x="806.1" y="1099.1"/>
<use href="#s" x="814.3" y="1092.1"/>
<use href="#s" x="822.5" y="1085.1"/>
<use href="#s" x="830.7" y="1078.2"/>
<use href="#s" x="838.9" y="1071.3"/>
<use href="#s" x="847.1" y="1064.4"/>
<use href="#s" x="855.4" y="1057.6"/>
<use href="#s" x="863.6" y="1050.8"/>
<use href="#s" x="871.8" y="1044"/>
<use href="#s" x="880" y="1037.2"/>
<use href="#s" x="888.2" y="1030.4"/>
<use href="#s" x="896.4" y="1023.7"/>
<use href="#s" x="904.6" y="1017"/>
<use href="#s" x="912.8" y="1010.3"/>
<use href="#s" x="921" y="1003.7"/>
<use href="#s" x="929.2" y="997.2"/>
<use href="#s" x="937.5" y="990.8"/>
<use href="#s" x="945.7" y="984.6"/>
<use href="#s" x="953.9" y="978.6"/>
<use href="#s" x="962.1" y="972.7"/>
<use href="#s" x="970.3" y="967"/>
<use href="#s" x="978.5" y="961.5"/>
<use href="#s" x="986.7" y="956.2"/>
<use href="#s" x="994.9" y="951"/>
<use href="#s" x="1003.1" y="946"/>
<use href="#s" x="1011.3" y="941"/>
<use href="#s" x="1019.5" y="936.1"/>
<use href="#s" x="1027.8" y="931.2"/>
<use href="#s" x="1036" y="926.4"/>
<use href="#s" x="1044.2" y="921.5"/>
<use href="#s" x="1052.4" y="916.7"/>
<use href="#s" x="1060.6" y="911.8"/>
<use href="#s" x="1068.8" y="907"/>
<use href="#s" x="1077" y="902.1"/>
<use href="#s" x="1085.2" y="897.2"/>
<use href="#s" x="1093.4" y="892.4"/>
<use href="#s" x="1101.7" y="887.5"/>
<use href="#s" x="1109.9" y="882.6"/>
<use href="#s" x="1118.1" y="877.8"/>
<use href="#s" x="1126.3" y="872.9"/>
<use href="#s" x="1134.5" y="868.1"/>
<use href="#s" x="1142.7" y="863.4"/>
<use href="#s" x="1150.9" y="858.6"/>
<use href="#s" x="1159.1" y="854"/>
<use href="#s" x="1167.3" y="849.3"/>
<use href="#s" x="1175.5" y="844.8"/>
<use href="#s" x="1183.8" y="840.4"/>
<use href="#s" x="1192" y="836"/>
<use href="#s" x="1200.2" y="831.8"/>
<use href="#s" x="1208.4" y="827.7"/>
<use href="#s" x="1216.6" y="823.7"/>
<use href="#s" x="1224.8" y="819.9"/>
<use href="#s" x="1233" y="816.2"/>
<use href="#s" x="1241.2" y="812.6"/>
<use href="#s" x="1249.4" y="809.1"/>
<use href="#s" x="1257.6" y="805.8"/>
<use href="#s" x="1265.8" y="802.5"/>
<use href="#s" x="1274.1" y="799.3"/>
<use href="#s" x="1282.3" y="796.2"/>
<use href="#s" x="1290.5" y="793.1"/>
<use href="#s" x="1298.7" y="790"/>
<use href="#s" x="1306.9" y="787"/>
<use href="#s" x="1315.1" y="783.9"/>
<use href="#s" x="1323.3" y="780.8"/>
<use href="#s" x="1331.5" y="777.7"/>
<use href="#s" x="1339.7" y="774.6"/>
<use href="#s" x="1348" y="771.8"/>
<use href="#s" x="1356.2" y="769.1"/>
<use href="#s" x="1364.4" y="766.2"/>
<use href="#s" x="1372.6" y="763.3"/>
<use href="#s" x="1380.8" y="760.4"/>
<use href="#s" x="1389" y="757.3"/>
<use href="#s" x="1389" y="758"/>
<use href="#s" x="1397.2" y="756.8"/>
<use href="#s" x="1405.4" y="755.3"/>
<use href="#s" x="1413.6" y="753.5"/>
<use href="#s" x="1421.8" y="751.4"/>
<use href="#s" x="1430" y="749"/>
<use href="#s" x="1438.3" y="746.3"/>
<use href="#s" x="1446.5" y="745.2"/>
<use href="#s" x="1454.7" y="743.9"/>
<use href="#s" x="1462.9" y="742.5"/>
<use href="#s" x="1471.1" y="741"/>
<use href="#s" x="1479.3" y="739.4"/>
<use href="#s" x="1487.5" y="737.6"/>
<use href="#s" x="1495.7" y="735.8"/>
<use href="#s" x="1503.9" y="733.8"/>
<use href="#s" x="1512.2" y="731.8"/>
<use href="#s" x="1520.4" y="729.6"/>
<use href="#s" x="1528.6" y="727.3"/>
<use href="#s" x="1536.8" y="725"/>
<use href="#s" x="1545" y="722.5"/>
<use href="#s" x="1553.2" y="720"/>
<use href="#s" x="1561.4" y="717.4"/>
<use href="#s" x="1569.6" y="714.7"/>
<use href="#s" x="1577.8" y="712"/>
<use href="#s" x="1586" y="709.2"/>
<use href="#s" x="1594.2" y="706.3"/>
<use href="#s" x="1602.5" y="703.4"/>
<use href="#s" x="1610.7" y="700.4"/>
<use href="#s" x="1618.9" y="697.3"/>
<use href="#s" x="1627.1" y="694.2"/>
<use href="#s" x="1635.3" y="691"/>
<use href="#s" x="1643.5" y="687.8"/>
<use href="#s" x="1651.7" y="684.5"/>
<use href="#s" x="1659.9" y="681.1"/>
<use href="#s" x="1668.1" y="677.7"/>
<use href="#s" x="1676.3" y="674.2"/>
<use href="#s" x="1684.6" y="670.6"/>
<use href="#s" x="1692.8" y="667"/>
<use href="#s" x="1701" y="663.3"/>
<use href="#s" x="1709.2" y="659.6"/>
<use href="#s" x="1717.4" y="655.9"/>
<use href="#s" x="1725.6" y="652.1"/>
<use href="#s" x="1733.8" y="648.2"/>
<use href="#s" x="1742" y="644.3"/>
<use href="#s" x="1750.2" y="640.4"/>
<use href="#s" x="1758.5" y="636.4"/>
<use href="#s" x="1766.7" y="632.3"/>
<use href="#s" x="1774.9" y="628.2"/>
<use href="#s" x="1783.1" y="624.1"/>
<use href="#s" x="1791.3" y="619.8"/>
<use href="#s" x="1799.5" y="615.5"/>
<use href="#s" x="1807.7" y="611.1"/>
<use href="#s" x="1815.9" y="606.7"/>
<use href="#s" x="1824.1" y="602.1"/>
<use href="#s" x="1832.3" y="597.5"/>
<use href="#s" x="1840.5" y="592.8"/>
<use href="#s" x="1848.8" y="587.9"/>
<use href="#s" x="1857" y="583"/>
<use href="#s" x="1865.2" y="578"/>
<use href="#s" x="1873.4" y="572.8"/>
<use href="#s" x="1881.6" y="567.6"/>
<use href="#s" x="1889.8" y="562.2"/>
<use href="#s" x="1898" y="556.8"/>
<use href="#s" x="1906.2" y="551.2"/>
<use href="#s" x="1914.4" y="545.5"/>
<use href="#s" x="1922.7" y="539.7"/>
<use href="#s" x="1930.9" y="533.8"/>
<use href="#s" x="1939.1" y="527.9"/>
<use href="#s" x="1947.3" y="522"/>
<use href="#s" x="1955.5" y="516.1"/>
<use href="#s" x="1963.7" y="510.2"/>
<use href="#s" x="1971.9" y="504.3"/>
<use href="#s" x="1980.1" y="498.4"/>
<use href="#s" x="1988.3" y="492.3"/>
<use href="#s" x="1996.5" y="485.9"/>
<use href="#s" x="2004.8" y="479.1"/>
<use href="#s" x="2013" y="471.9"/>
<use href="#s" x="2021.2" y="463.9"/>
<use href="#s" x="2029.4" y="455.4"/>
<use href="#s" x="2037.6" y="446.2"/>
<use href="#s" x="2045.8" y="436.4"/>
<use href="#s" x="2054" y="426.2"/>
<use href="#s" x="2062.2" y="415.6"/>
<use href="#s" x="2070.4" y="404.8"/>
<use href="#s" x="2078.6" y="393.5"/>
<use href="#w" x="2086.8" y="381.7"/>
<use href="#w" x="2095.1" y="368.7"/>
<use href="#w" x="2103.3" y="354.2"/>
<use href="#w" x="2111.5" y="338.5"/>
<use href="#w" x="2119.7" y="323.1"/>
<use href="#w" x="2127.9" y="309.7"/>
<use href="#w" x="2136.1" y="300"/>
<use href="#s" x="2144.3" y="292.5"/>
<use href="#s" x="2152.5" y="285.5"/>
<use href="#s" x="2160.7" y="277.2"/>
<use href="#s" x="2168.9" y="266.9"/>
<use href="#s" x="2177.2" y="254.4"/>
<use href="#s" x="2185.4" y="240"/>
<use href="#s" x="2193.6" y="225.4"/>
<use href="#s" x="2201.8" y="213.5"/>
<use href="#s" x="2210" y="200.4"/>
<use href="#s" x="2210" y="189"/>
<use href="#s" x="2201.8" y="199"/>
<use href="#s" x="2193.6" y="208.4"/>
<use href="#s" x="2185.4" y="217.7"/>
<use href="#s" x="2177.2" y="227"/>
<use href="#s" x="2168.9" y="236.5"/>
<use href="#s" x="2160.7" y="245.9"/>
<use href="#s" x="2152.5" y="255.4"/>
<use href="#s" x="2144.3" y="264.8"/>
<use href="#s" x="2136.1" y="274.3"/>
<use href="#s" x="2127.9" y="284.1"/>
<use href="#s" x="2119.7" y="293.5"/>
<use href="#s" x="2111.5" y="303.2"/>
<use href="#s" x="2103.3" y="312.8"/>
<use href="#s" x="2095.1" y="322.2"/>
<use href="#s" x="2086.8" y="331.3"/>
<use href="#s" x="2078.6" y="340.2"/>
<use href="#s" x="2070.4" y="349"/>
<use href="#s" x="2062.2" y="357.6"/>
<use href="#s" x="2054" y="366.2"/>
<use href="#s" x="2045.8" y="374.6"/>
<use href="#s" x="2037.6" y="382.9"/>
<use href="#s" x="2029.4" y="391.1"/>
<use href="#s" x="2021.2" y="399.1"/>
<use href="#s" x="2013" y="406.9"/>
<use href="#s" x="2004.8" y="414.6"/>
<use href="#s" x="1996.5" y="422.1"/>
<use href="#s" x="1988.3" y="429.5"/>
<use href="#s" x="1980.1" y="436.9"/>
<use href="#s" x="1971.9" y="444.1"/>
<use href="#s" x="1963.7" y="451.2"/>
<use href="#s" x="1955.5" y="458.3"/>
<use href="#s" x="1947.3" y="465.3"/>
<use href="#s" x="1939.1" y="472.3"/>
<use href="#s" x="1930.9" y="479.2"/>
<use href="#s" x="1922.7" y="485.9"/>
<use href="#s" x="1914.4" y="492.7"/>
<use href="#s" x="1906.2" y="499.3"/>
<use href="#s" x="1898" y="505.8"/>
<use href="#s" x="1889.8" y="512.3"/>
<use href="#s" x="1881.6" y="518.6"/>
<use href="#s" x="1873.4" y="524.9"/>
<use href="#s" x="1865.2" y="531"/>
<use href="#s" x="1857" y="537"/>
<use href="#s" x="1848.8" y="543"/>
<use href="#s" x="1840.5" y="548.8"/>
<use href="#s" x="1832.3" y="554.5"/>
<use href="#s" x="1824.1" y="560"/>
<use href="#s" x="1815.9" y="565.5"/>
<use href="#s" x="1807.7" y="570.8"/>
<use href="#s" x="1799.5" y="576.1"/>
<use href="#s" x="1791.3" y="581.2"/>
<use href="#s" x="1783.1" y="586.3"/>
<use href="#s" x="1774.9" y="591.3"/>
<use href="#s" x="1766.7" y="596.3"/>
<use href="#s" x="1758.5" y="601.2"/>
<use href="#s" x="1750.2" y="606.1"/>
<use href="#s" x="1742" y="611"/>
<use href="#s" x="1733.8" y="615.9"/>
<use href="#s" x="1725.6" y="620.8"/>
<use href="#s" x="1717.4" y="625.6"/>
<use href="#s" x="1709.2" y="630.4"/>
<use href="#s" x="1701" y="635.2"/>
<use href="#s" x="1692.8" y="640"/>
<use href="#s" x="1684.6" y="644.7"/>
<use href="#s" x="1676.3" y="649.3"/>
<use href="#s" x="1668.1" y="653.8"/>
<use href="#s" x="1659.9" y="658.1"/>
<use href="#s" x="1651.7" y="662.4"/>
<use href="#s" x="1643.5" y="666.6"/>
<use href="#s" x="1635.3" y="670.6"/>
<use href="#s" x="1627.1" y="674.5"/>
<use href="#s" x="1618.9" y="678.3"/>
<use href="#s" x="1610.7" y="682"/>
<use href="#s" x="1602.5" y="685.7"/>
<use href="#s" x="1594.2" y="689.2"/>
<use href="#s" x="1586" y="692.8"/>
<use href="#s" x="1577.8" y="696.3"/>
<use href="#s" x="1569.6" y="699.8"/>
<use href="#s" x="1561.4" y="703.3"/>
<use href="#s" x="1553.2" y="706.8"/>
<use href="#s" x="1545" y="710.2"/>
<use href="#s" x="1536.8" y="713.7"/>
<use href="#s" x="1528.6" y="717"/>
<use href="#s" x="1520.4" y="720.4"/>
<use href="#s" x="1512.2" y="723.7"/>
<use href="#s" x="1503.9" y="727"/>
<use href="#s" x="1495.7" y="730.2"/>
<use href="#s" x="1487.5" y="733.3"/>
<use href="#s" x="1479.3" y="736.4"/>
<use href="#s" x="1471.1" y="739.5"/>
<use href="#s" x="1462.9" y="742.7"/>
<use href="#s" x="1454.7" y="745.9"/>
<use href="#s" x="1446.5" y="749.1"/>
<use href="#s" x="1438.3" y="752.3"/>
<use href="#s" x="1430" y="753.5"/>
<use href="#s" x="1421.8" y="754.6"/>
<use href="#s" x="1413.6" y="755.5"/>
<use href="#s" x="1405.4" y="756.1"/>
<use href="#s" x="1397.2" y="756.5"/>
<use href="#s" x="1389" y="756.7"/>
<use href="#s" x="1389" y="753.8"/>
<use href="#s" x="1380.8" y="756.9"/>
<use href="#s" x="1372.6" y="759.9"/>
<use href="#s" x="1364.4" y="762.9"/>
<use href="#s" x="1356.2" y="765.8"/>
<use href="#s" x="1348" y="768.7"/>
<use href="#s" x="1339.7" y="771.5"/>
<use href="#s" x="1331.5" y="774"/>
<use href="#s" x="1323.3" y="776.4"/>
<use href="#s" x="1315.1" y="778.9"/>
<use href="#s" x="1306.9" y="781.3"/>
<use href="#s" x="1298.7" y="783.7"/>
<use href="#s" x="1290.5" y="786.1"/>
<use href="#s" x="1282.3" y="788.5"/>
<use href="#s" x="1274.1" y="790.9"/>
<use href="#s" x="1265.8" y="793.3"/>
<use href="#s" x="1257.6" y="795.7"/>
<use href="#s" x="1249.4" y="798.2"/>
<use href="#s" x="1241.2" y="800.7"/>
<use href="#s" x="1233" y="803.2"/>
<use href="#s" x="1224.8" y="805.7"/>
<use href="#s" x="1216.6" y="808.3"/>
<use href="#s" x="1208.4" y="810.9"/>
<use href="#s" x="1200.2" y="813.6"/>
<use href="#s" x="1192" y="816.3"/>
<use href="#s" x="1183.8" y="819.1"/>
<use href="#s" x="1175.5" y="822"/>
<use href="#s" x="1167.3" y="824.9"/>
<use href="#s" x="1159.1" y="827.8"/>
<use href="#s" x="1150.9" y="830.9"/>
<use href="#s" x="1142.7" y="834"/>
<use href="#s" x="1134.5" y="837.2"/>
<use href="#s" x="1126.3" y="840.4"/>
<use href="#s" x="1118.1" y="843.8"/>
<use href="#s" x="1109.9" y="847.2"/>
<use href="#s" x="1101.7" y="850.8"/>
<use href="#s" x="1093.4" y="854.4"/>
<use href="#s" x="1085.2" y="858.1"/>
<use href="#s" x="1077" y="861.9"/>
<use href="#s" x="1068.8" y="865.8"/>
<use href="#s" x="1060.6" y="869.8"/>
<use href="#s" x="1052.4" y="873.9"/>
<use href="#s" x="1044.2" y="878.1"/>
<use href="#s" x="1036" y="882.4"/>
<use href="#s" x="1027.8" y="886.8"/>
<use href="#s" x="1019.5" y="891.4"/>
<use href="#s" x="1011.3" y="896"/>
<use href="#s" x="1003.1" y="900.8"/>
<use href="#s" x="994.9" y="905.6"/>
<use href="#s" x="986.7" y="910.6"/>
<use href="#s" x="978.5" y="915.7"/>
<use href="#s" x="970.3" y="920.9"/>
<use href="#s" x="962.1" y="926.3"/>
<use href="#s" x="953.9" y="931.7"/>
<use href="#s" x="945.7" y="937.3"/>
<use href="#s" x="937.5" y="942.9"/>
<use href="#s" x="929.2" y="948.7"/>
<use href="#s" x="921" y="954.7"/>
<use href="#s" x="912.8" y="960.7"/>
<use href="#s" x="904.6" y="966.8"/>
<use href="#s" x="896.4" y="973"/>
<use href="#s" x="888.2" y="979.4"/>
<use href="#s" x="880" y="985.8"/>
<use href="#s" x="871.8" y="992.4"/>
<use href="#s" x="863.6" y="999"/>
<use href="#s" x="855.4" y="1005.7"/>
<use href="#s" x="847.1" y="1012.5"/>
<use href="#s" x="838.9" y="1019.3"/>
<use href="#s" x="830.7" y="1026.2"/>
<use href="#s" x="822.5" y="1033.2"/>
<use href="#s" x="814.3" y="1040.3"/>
<use href="#s" x="806.1" y="1047.4"/>
<use href="#s" x="797.9" y="1054.6"/>
<use href="#s" x="789.7" y="1061.8"/>
<use href="#s" x="781.5" y="1069.2"/>
<use href="#s" x="773.2" y="1076.7"/>
<use href="#s" x="765" y="1084.3"/>
<use href="#s" x="756.8" y="1092"/>
<use href="#s" x="748.6" y="1099.8"/>
<use href="#s" x="740.4" y="1107.9"/>
<use href="#s" x="732.2" y="1116.1"/>
<use href="#s" x="724" y="1124.5"/>
<use href="#s" x="715.8" y="1133.1"/>
<use href="#s" x="707.6" y="1142"/>
<use href="#s" x="699.4" y="1151"/>
<use href="#s" x="691.2" y="1160.1"/>
<use href="#s" x="682.9" y="1169.5"/>
<use href="#s" x="674.7" y="1179"/>
<use href="#s" x="666.5" y="1188.6"/>
<use href="#s" x="658.3" y="1198.3"/>
<use href="#s" x="650.1" y="1208.1"/>
<use href="#s" x="641.9" y="1218"/>
<use href="#s" x="633.7" y="1227.9"/>
<use href="#s" x="625.5" y="1237.8"/>
<use href="#s" x="617.3" y="1247.7"/>
<use href="#s" x="609.1" y="1257.7"/>
<use href="#s" x="600.8" y="1267.6"/>
<use href="#s" x="592.6" y="1277.5"/>
<use href="#s" x="584.4" y="1287.4"/>
<use href="#s" x="576.2" y="1297.3"/>
<use href="#s" x="568" y="1307.2"/>
<use href="#s" x="568" y="1316.7"/>
<use href="#s" x="576.2" y="1309"/>
<use href="#s" x="584.4" y="1301.2"/>
<use href="#s" x="592.6" y="1293.3"/>
<use href="#s" x="600.8" y="1285.3"/>
<use href="#s" x="609.1" y="1277.3"/>
<use href="#s" x="617.3" y="1269.2"/>
<use href="#s" x="625.5" y="1261"/>
<use href="#s" x="633.7" y="1252.8"/>
<use href="#s" x="641.9" y="1244.7"/>
<use href="#s" x="650.1" y="1236.6"/>
<use href="#s" x="658.3" y="1228.7"/>
<use href="#s" x="666.5" y="1220.8"/>
<use href="#s" x="674.7" y="1213.1"/>
<use href="#s" x="682.9" y="1205.6"/>
<use href="#s" x="691.2" y="1198.2"/>
<use href="#s" x="699.4" y="1191"/>
<use href="#s" x="707.6" y="1183.9"/>
<use href="#s" x="715.8" y="1176.8"/>
<use href="#s" x="724" y="1169.9"/>
<use href="#s" x="732.2" y="1162.9"/>
<use href="#s" x="740.4" y="1156"/>
<use href="#s" x="748.6" y="1149"/>
<use href="#s" x="756.8" y="1142.1"/>
<use href="#s" x="765" y="1135.1"/>
<use href="#s" x="773.2" y="1128.1"/>
<use href="#s" x="781.5" y="1121.1"/>
<use href="#s" x="789.7" y="1114.1"/>
<use href="#s" x="797.9" y="1107.1"/>
<use href="#s" x="806.1" y="1100.1"/>
<use href="#s" x="814.3" y="1093.1"/>
<use href="#s" x="822.5" y="1086.1"/>
<use href="#s" x="830.7" y="1079.2"/>
<use href="#s" x="838.9" y="1072.3"/>
<use href="#s" x="847.1" y="1065.4"/>
<use href="#s" x="855.4" y="1058.6"/>
<use href="#s" x="863.6" y="1051.8"/>
<use href="#s" x="871.8" y="1045"/>
<use href="#s" x="880" y="1038.2"/>
<use href="#s" x="888.2" y="1031.4"/>
<use href="#s" x="896.4" y="1024.7"/>
<use href="#s" x="904.6" y="1018"/>
<use href="#s" x="912.8" y="1011.3"/>
<use href="#s" x="921" y="1004.7"/>
<use href="#s" x="929.2" y="998.2"/>
<use href="#s" x="937.5" y="991.8"/>
<use href="#s" x="945.7" y="985.6"/>
<use href="#s" x="953.9" y="979.6"/>
<use href="#s" x="962.1" y="973.7"/>
<use href="#s" x="970.3" y="968"/>
<use href="#s" x="978.5" y="962.5"/>
<use href="#s" x="986.7" y="957.2"/>
<use href="#s" x="994.9" y="952"/>
<use href="#s" x="1003.1" y="947"/>
<use href="#s" x="1011.3" y="942"/>
<use href="#s" x="1019.5" y="937.1"/>
<use href="#s" x="1027.8" y="932.2"/>
<use href="#s" x="1036" y="927.4"/>
<use href="#s" x="1044.2" y="922.5"/>
<use href="#s" x="1052.4" y="917.7"/>
<use href="#s" x="1060.6" y="912.8"/>
<use href="#s" x="1068.8" y="908"/>
<use href="#s" x="1077" y="903.1"/>
<use href="#s" x="1085.2" y="898.2"/>
<use href="#s" x="1093.4" y="893.4"/>
<use href="#s" x="1101.7" y="888.5"/>
<use href="#s" x="1109.9" y="883.6"/>
<use href="#s" x="1118.1" y="878.8"/>
<use href="#s" x="1126.3" y="873.9"/>
<use href="#s" x="1134.5" y="869.1"/>
<use href="#s" x="1142.7" y="864.4"/>
<use href="#s" x="1150.9" y="859.6"/>
<use href="#s" x="1159.1" y="855"/>
<use href="#s" x="1167.3" y="850.3"/>
<use href="#s" x="1175.5" y="845.8"/>
<use href="#s" x="1183.8" y="841.4"/>
<use href="#s" x="1192" y="837"/>
<use href="#s" x="1200.2" y="832.8"/>
<use href="#s" x="1208.4" y="828.7"/>
<use href="#s" x="1216.6" y="824.7"/>
<use href="#s" x="1224.8" y="820.9"/>
<use href="#s" x="1233" y="817.2"/>
<use href="#s" x="1241.2" y="813.6"/>
<use href="#s" x="1249.4" y="810.1"/>
<use href="#s" x="1257.6" y="806.8"/>
<use href="#s" x="1265.8" y="803.5"/>
<use href="#s" x="1274.1" y="800.3"/>
<use href="#s" x="1282.3" y="797.2"/>
<use href="#s" x="1290.5" y="794.1"/>
<use href="#s" x="1298.7" y="791"/>
<use href="#s" x="1306.9" y="788"/>
<use href="#s" x="1315.1" y="784.9"/>
<use href="#s" x="1323.3" y="781.8"/>
<use href="#s" x="1331.5" y="778.7"/>
<use href="#s" x="1339.7" y="775.6"/>
<use href="#s" x="1348" y="772.7"/>
<use href="#s" x="1356.2" y="769.7"/>
<use href="#s" x="1364.4" y="766.7"/>
<use href="#s" x="1372.6" y="763.7"/>
<use href="#s" x="1380.8" y="760.5"/>
<use href="#s" x="1389" y="757.3"/>
<use href="#s" x="1389" y="758"/>
<use href="#s" x="1397.2" y="758"/>
<use href="#s" x="1405.4" y="757.7"/>
<use href="#s" x="1413.6" y="757.3"/>
<use href="#s" x="1421.8" y="756.6"/>
<use href="#s" x="1430" y="755.8"/>
<use href="#s" x="1438.3" y="754.8"/>
<use href="#s" x="1446.5" y="754"/>
<use href="#s" x="1454.7" y="753.1"/>
<use href="#s" x="1462.9" y="752"/>
<use href="#s" x="1471.1" y="750.7"/>
<use href="#s" x="1479.3" y="749.4"/>
<use href="#s" x="1487.5" y="747.9"/>
<use href="#s" x="1495.7" y="746.2"/>
<use href="#s" x="1503.9" y="744.5"/>
<use href="#s" x="1512.2" y="742.6"/>
<use href="#s" x="1520.4" y="740.6"/>
<use href="#s" x="1528.6" y="738.5"/>
<use href="#s" x="1536.8" y="736.3"/>
<use href="#s" x="1545" y="734.1"/>
<use href="#s" x="1553.2" y="731.7"/>
<use href="#s" x="1561.4" y="729.2"/>
<use href="#s" x="1569.6" y="726.7"/>
<use href="#s" x="1577.8" y="724.1"/>
<use href="#s" x="1586" y="721.4"/>
<use href="#s" x="1594.2" y="718.7"/>
<use href="#s" x="1602.5" y="715.8"/>
<use href="#s" x="1610.7" y="712.9"/>
<use href="#s" x="1618.9" y="710"/>
<use href="#s" x="1627.1" y="707"/>
<use href="#s" x="1635.3" y="703.9"/>
<use href="#s" x="1643.5" y="700.8"/>
<use href="#s" x="1651.7" y="697.6"/>
<use href="#s" x="1659.9" y="694.4"/>
<use href="#s" x="1668.1" y="691.1"/>
<use href="#s" x="1676.3" y="687.8"/>
<use href="#s" x="1684.6" y="684.4"/>
<use href="#s" x="1692.8" y="681"/>
<use href="#s" x="1701" y="677.5"/>
<use href="#s" x="1709.2" y="674"/>
<use href="#s" x="1717.4" y="670.4"/>
<use href="#s" x="1725.6" y="666.8"/>
<use href="#s" x="1733.8" y="663.1"/>
<use href="#s" x="1742" y="659.4"/>
<use href="#s" x="1750.2" y="655.6"/>
<use href="#s" x="1758.5" y="651.8"/>
<use href="#s" x="1766.7" y="647.9"/>
<use href="#s" x="1774.9" y="643.9"/>
<use href="#s" x="1783.1" y="639.9"/>
<use href="#s" x="1791.3" y="635.8"/>
<use href="#s" x="1799.5" y="631.6"/>
<use href="#s" x="1807.7" y="627.4"/>
<use href="#s" x="1815.9" y="623"/>
<use href="#s" x="1824.1" y="618.6"/>
<use href="#s" x="1832.3" y="614.2"/>
<use href="#s" x="1840.5" y="609.6"/>
<use href="#s" x="1848.8" y="604.9"/>
<use href="#s" x="1857" y="600.2"/>
<use href="#s" x="1865.2" y="595.3"/>
<use href="#s" x="1873.4" y="590.3"/>
<use href="#s" x="1881.6" y="585.3"/>
<use href="#s" x="1889.8" y="580.1"/>
<use href="#s" x="1898" y="574.7"/>
<use href="#s" x="1906.2" y="569.3"/>
<use href="#s" x="1914.4" y="563.8"/>
<use href="#s" x="1922.7" y="558.1"/>
<use href="#s" x="1930.9" y="552.5"/>
<use href="#s" x="1939.1" y="546.7"/>
<use href="#s" x="1947.3" y="541"/>
<use href="#s" x="1955.5" y="535.2"/>
<use href="#s" x="1963.7" y="529.5"/>
<use href="#s" x="1971.9" y="523.9"/>
<use href="#s" x="1980.1" y="518.1"/>
<use href="#s" x="1988.3" y="512.2"/>
<use href="#s" x="1996.5" y="506"/>
<use href="#s" x="2004.8" y="499.4"/>
<use href="#s" x="2013" y="492.2"/>
<use href="#s" x="2021.2" y="484.3"/>
<use href="#s" x="2029.4" y="475.6"/>
<use href="#s" x="2037.6" y="466.2"/>
<use href="#s" x="2045.8" y="456.2"/>
<use href="#s" x="2054" y="445.7"/>
<use href="#s" x="2062.2" y="434.8"/>
<use href="#s" x="2070.4" y="423.5"/>
<use href="#s" x="2078.6" y="411.9"/>
<use href="#w" x="2086.8" y="399.5"/>
<use href="#w" x="2095.1" y="385.9"/>
<use href="#w" x="2103.3" y="370.6"/>
<use href="#w" x="2111.5" y="353.9"/>
<use href="#w" x="2119.7" y="337.5"/>
<use href="#w" x="2127.9" y="323.4"/>
<use href="#w" x="2136.1" y="312.8"/>
<use href="#s" x="2144.3" y="304.7"/>
<use href="#s" x="2152.5" y="297.1"/>
<use href="#s" x="2160.7" y="288.1"/>
<use href="#s" x="2168.9" y="276.8"/>
<use href="#s" x="2177.2" y="263.1"/>
<use href="#s" x="2185.4" y="247.5"/>
<use href="#s" x="2193.6" y="231.7"/>
<use href="#s" x="2201.8" y="219.1"/>
<use href="#s" x="2210" y="205.1"/>
<use href="#s" x="2210" y="184.3"/>
<use href="#s" x="2201.8" y="193.5"/>
<use href="#s" x="2193.6" y="202"/>
<use href="#s" x="2185.4" y="210.2"/>
<use href="#s" x="2177.2" y="218.3"/>
<use href="#s" x="2168.9" y="226.5"/>
<use href="#s" x="2160.7" y="235"/>
<use href="#s" x="2152.5" y="243.7"/>
<use href="#s" x="2144.3" y="252.5"/>
<use href="#s" x="2136.1" y="261.5"/>
<use href="#s" x="2127.9" y="270.4"/>
<use href="#s" x="2119.7" y="279.1"/>
<use href="#s" x="2111.5" y="287.8"/>
<use href="#s" x="2103.3" y="296.4"/>
<use href="#s" x="2095.1" y="305"/>
<use href="#s" x="2086.8" y="313.5"/>
<use href="#s" x="2078.6" y="321.9"/>
<use href="#s" x="2070.4" y="330.2"/>
<use href="#s" x="2062.2" y="338.5"/>
<use href="#s" x="2054" y="346.7"/>
<use href="#s" x="2045.8" y="354.8"/>
<use href="#s" x="2037.6" y="362.9"/>
<use href="#s" x="2029.4" y="370.8"/>
<use href="#s" x="2021.2" y="378.7"/>
<use href="#s" x="2013" y="386.6"/>
<use href="#s" x="2004.8" y="394.3"/>
<use href="#s" x="1996.5" y="402"/>
<use href="#s" x="1988.3" y="409.6"/>
<use href="#s" x="1980.1" y="417.1"/>
<use href="#s" x="1971.9" y="424.5"/>
<use href="#s" x="1963.7" y="431.9"/>
<use href="#s" x="1955.5" y="439.2"/>
<use href="#s" x="1947.3" y="446.4"/>
<use href="#s" x="1939.1" y="453.5"/>
<use href="#s" x="1930.9" y="460.5"/>
<use href="#s" x="1922.7" y="467.5"/>
<use href="#s" x="1914.4" y="474.4"/>
<use href="#s" x="1906.2" y="481.1"/>
<use href="#s" x="1898" y="487.8"/>
<use href="#s" x="1889.8" y="494.4"/>
<use href="#s" x="1881.6" y="501"/>
<use href="#s" x="1873.4" y="507.4"/>
<use href="#s" x="1865.2" y="513.7"/>
<use href="#s" x="1857" y="519.9"/>
<use href="#s" x="1848.8" y="526"/>
<use href="#s" x="1840.5" y="531.9"/>
<use href="#s" x="1832.3" y="537.8"/>
<use href="#s" x="1824.1" y="543.5"/>
<use href="#s" x="1815.9" y="549.1"/>
<use href="#s" x="1807.7" y="554.6"/>
<use href="#s" x="1799.5" y="560"/>
<use href="#s" x="1791.3" y="565.3"/>
<use href="#s" x="1783.1" y="570.5"/>
<use href="#s" x="1774.9" y="575.7"/>
<use href="#s" x="1766.7" y="580.8"/>
<use href="#s" x="1758.5" y="585.9"/>
<use href="#s" x="1750.2" y="590.9"/>
<use href="#s" x="1742" y="596"/>
<use href="#s" x="1733.8" y="601"/>
<use href="#s" x="1725.6" y="606"/>
<use href="#s" x="1717.4" y="611.1"/>
<use href="#s" x="1709.2" y="616.1"/>
<use href="#s" x="1701" y="621.1"/>
<use href="#s" x="1692.8" y="626"/>
<use href="#s" x="1684.6" y="630.8"/>
<use href="#s" x="1676.3" y="635.6"/>
<use href="#s" x="1668.1" y="640.3"/>
<use href="#s" x="1659.9" y="644.8"/>
<use href="#s" x="1651.7" y="649.2"/>
<use href="#s" x="1643.5" y="653.5"/>
<use href="#s" x="1635.3" y="657.7"/>
<use href="#s" x="1627.1" y="661.7"/>
<use href="#s" x="1618.9" y="665.6"/>
<use href="#s" x="1610.7" y="669.4"/>
<use href="#s" x="1602.5" y="673.2"/>
<use href="#s" x="1594.2" y="676.9"/>
<use href="#s" x="1586" y="680.6"/>
<use href="#s" x="1577.8" y="684.2"/>
<use href="#s" x="1569.6" y="687.8"/>
<use href="#s" x="1561.4" y="691.4"/>
<use href="#s" x="1553.2" y="695.1"/>
<use href="#s" x="1545" y="698.7"/>
<use href="#s" x="1536.8" y="702.3"/>
<use href="#s" x="1528.6" y="705.8"/>
<use href="#s" x="1520.4" y="709.4"/>
<use href="#s" x="1512.2" y="712.9"/>
<use href="#s" x="1503.9" y="716.3"/>
<use href="#s" x="1495.7" y="719.7"/>
<use href="#s" x="1487.5" y="723.1"/>
<use href="#s" x="1479.3" y="726.4"/>
<use href="#s" x="1471.1" y="729.8"/>
<use href="#s" x="1462.9" y="733.2"/>
<use href="#s" x="1454.7" y="736.7"/>
<use href="#s" x="1446.5" y="740.3"/>
<use href="#s" x="1438.3" y="743.8"/>
<use href="#s" x="1430" y="746.7"/>
<use href="#s" x="1421.8" y="749.4"/>
<use href="#s" x="1413.6" y="751.8"/>
<use href="#s" x="1405.4" y="753.7"/>
<use href="#s" x="1397.2" y="755.3"/>
<use href="#s" x="1389" y="756.7"/>
<use href="#s" x="1389" y="753.8"/>
<use href="#s" x="1380.8" y="756.7"/>
<use href="#s" x="1372.6" y="759.6"/>
<use href="#s" x="1364.4" y="762.4"/>
<use href="#s" x="1356.2" y="765.1"/>
<use href="#s" x="1348" y="767.8"/>
<use href="#s" x="1339.7" y="770.5"/>
<use href="#s" x="1331.5" y="773"/>
<use href="#s" x="1323.3" y="775.4"/>
<use href="#s" x="1315.1" y="777.9"/>
<use href="#s" x="1306.9" y="780.3"/>
<use href="#s" x="1298.7" y="782.7"/>
<use href="#s" x="1290.5" y="785.1"/>
<use href="#s" x="1282.3" y="787.5"/>
<use href="#s" x="1274.1" y="789.9"/>
<use href="#s" x="1265.8" y="792.3"/>
<use href="#s" x="1257.6" y="794.7"/>
<use href="#s" x="1249.4" y="797.2"/>
<use href="#s" x="1241.2" y="799.7"/>
<use href="#s" x="1233" y="802.2"/>
<use href="#s" x="1224.8" y="804.7"/>
<use href="#s" x="1216.6" y="807.3"/>
<use href="#s" x="1208.4" y="809.9"/>
<use href="#s" x="1200.2" y="812.6"/>
<use href="#s" x="1192" y="815.3"/>
<use href="#s" x="1183.8" y="818.1"/>
<use href="#s" x="1175.5" y="821"/>
<use href="#s" x="1167.3" y="823.9"/>
<use href="#s" x="1159.1" y="826.8"/>
<use href="#s" x="1150.9" y="829.9"/>
<use href="#s" x="1142.7" y="833"/>
<use href="#s" x="1134.5" y="836.2"/>
<use href="#s" x="1126.3" y="839.4"/>
<use href="#s" x="1118.1" y="842.8"/>
<use href="#s" x="1109.9" y="846.2"/>
<use href="#s" x="1101.7" y="849.8"/>
<use href="#s" x="1093.4" y="853.4"/>
<use href="#s" x="1085.2" y="857.1"/>
<use href="#s" x="1077" y="860.9"/>
<use href="#s" x="1068.8" y="864.8"/>
<use href="#s" x="1060.6" y="868.8"/>
<use href="#s" x="1052.4" y="872.9"/>
<use href="#s" x="1044.2" y="877.1"/>
<use href="#s" x="1036" y="881.4"/>
<use href="#s" x="1027.8" y="885.8"/>
<use href="#s" x="1019.5" y="890.4"/>
<use href="#s" x="1011.3" y="895"/>
<use href="#s" x="1003.1" y="899.8"/>
<use href="#s" x="994.9" y="904.6"/>
<use href="#s" x="986.7" y="909.6"/>
<use href="#s" x="978.5" y="914.7"/>
<use href="#s" x="970.3" y="919.9"/>
<use href="#s" x="962.1" y="925.3"/>
<use href="#s" x="953.9" y="930.7"/>
<use href="#s" x="945.7" y="936.3"/>
<use href="#s" x="937.5" y="941.9"/>
<use href="#s" x="929.2" y="947.7"/>
<use href="#s" x="921" y="953.7"/>
<use href="#s" x="912.8" y="959.7"/>
<use href="#s" x="904.6" y="965.8"/>
<use href="#s" x="896.4" y="972"/>
<use href="#s" x="888.2" y="978.4"/>
<use href="#s" x="880" y="984.8"/>
<use href="#s" x="871.8" y="991.4"/>
<use href="#s" x="863.6" y="998"/>
<use href="#s" x="855.4" y="1004.7"/>
<use href="#s" x="847.1" y="1011.5"/>
<use href="#s" x="838.9" y="1018.3"/>
<use href="#s" x="830.7" y="1025.2"/>
<use href="#s" x="822.5" y="1032.2"/>
<use href="#s" x="814.3" y="1039.3"/>
<use href="#s" x="806.1" y="1046.4"/>
<use href="#s" x="797.9" y="1053.6"/>
<use href="#s" x="789.7" y="1060.8"/>
<use href="#s" x="781.5" y="1068.2"/>
<use href="#s" x="773.2" y="1075.7"/>
<use href="#s" x="765" y="1083.3"/>
<use href="#s" x="756.8" y="1091"/>
<use href="#s" x="748.6" y="1098.8"/>
<use href="#s" x="740.4" y="1106.9"/>
<use href="#s" x="732.2" y="1115.1"/>
<use href="#s" x="724" y="1123.5"/>
<use href="#s" x="715.8" y="1132.1"/>
<use href="#s" x="707.6" y="1141"/>
<use href="#s" x="699.4" y="1150"/>
<use href="#s" x="691.2" y="1159.1"/>
<use href="#s" x="682.9" y="1168.5"/>
<use href="#s" x="674.7" y="1178"/>
<use href="#s" x="666.5" y="1187.6"/>
<use href="#s" x="658.3" y="1197.3"/>
<use href="#s" x="650.1" y="1207.1"/>
<use href="#s" x="641.9" y="1217"/>
<use href="#s" x="633.7" y="1226.9"/>
<use href="#s" x="625.5" y="1236.8"/>
<use href="#s" x="617.3" y="1246.7"/>
<use href="#s" x="609.1" y="1256.7"/>
<use href="#s" x="600.8" y="1266.6"/>
<use href="#s" x="592.6" y="1276.5"/>
<use href="#s" x="584.4" y="1286.4"/>
<use href="#s" x="576.2" y="1296.3"/>
<use href="#s" x="568" y="1306.2"/>
<use href="#s" x="568" y="1317.7"/>
<use href="#s" x="576.2" y="1310"/>
<use href="#s" x="584.4" y="1302.2"/>
<use href="#s" x="592.6" y="1294.3"/>
<use href="#s" x="600.8" y="1286.3"/>
<use href="#s" x="609.1" y="1278.3"/>
<use href="#s" x="617.3" y="1270.2"/>
<use href="#s" x="625.5" y="1262"/>
<use href="#s" x="633.7" y="1253.8"/>
<use href="#s" x="641.9" y="1245.7"/>
<use href="#s" x="650.1" y="1237.6"/>
<use href="#s" x="658.3" y="1229.7"/>
<use href="#s" x="666.5" y="1221.8"/>
<use href="#s" x="674.7" y="1214.1"/>
<use href="#s" x="682.9" y="1206.6"/>
<use href="#s" x="691.2" y="1199.2"/>
<use href="#s" x="699.4" y="1192"/>
<use href="#s" x="707.6" y="1184.9"/>
<use href="#s" x="715.8" y="1177.8"/>
<use href="#s" x="724" y="1170.9"/>
<use href="#s" x="732.2" y="1163.9"/>
<use href="#s" x="740.4" y="1157"/>
<use href="#s" x="748.6" y="1150"/>
<use href="#s" x="756.8" y="1143.1"/>
<use href="#s" x="765" y="1136.1"/>
<use href="#s" x="773.2" y="1129.1"/>
<use href="#s" x="781.5" y="1122.1"/>
<use href="#s" x="789.7" y="1115.1"/>
<use href="#s" x="797.9" y="1108.1"/>
<use href="#s" x="806.1" y="1101.1"/>
<use href="#s" x="814.3" y="1094.1"/>
<use href="#s" x="822.5" y="1087.1"/>
<use href="#s" x="830.7" y="1080.2"/>
<use href="#s" x="838.9" y="1073.3"/>
<use href="#s" x="847.1" y="1066.4"/>
<use href="#s" x="855.4" y="1059.6"/>
<use href="#s" x="863.6" y="1052.8"/>
<use href="#s" x="871.8" y="1046"/>
<use href="#s" x="880" y="1039.2"/>
<use href="#s" x="888.2" y="1032.4"/>
<use href="#s" x="896.4" y="1025.7"/>
<use href="#s" x="904.6" y="1019"/>
<use href="#s" x="912.8" y="1012.3"/>
<use href="#s" x="921" y="1005.7"/>
<use href="#s" x="929.2" y="999.2"/>
<use href="#s" x="937.5" y="992.8"/>
<use href="#s" x="945.7" y="986.6"/>
<use href="#s" x="953.9" y="980.6"/>
<use href="#s" x="962.1" y="974.7"/>
<use href="#s" x="970.3" y="969"/>
<use href="#s" x="978.5" y="963.5"/>
<use href="#s" x="986.7" y="958.2"/>
<use href="#s" x="994.9" y="953"/>
<use href="#s" x="1003.1" y="948"/>
<use href="#s" x="1011.3" y="943"/>
<use href="#s" x="1019.5" y="938.1"/>
<use href="#s" x="1027.8" y="933.2"/>
<use href="#s" x="1036" y="928.4"/>
<use href="#s" x="1044.2" y="923.5"/>
<use href="#s" x="1052.4" y="918.7"/>
<use href="#s" x="1060.6" y="913.8"/>
<use href="#s" x="1068.8" y="909"/>
<use href="#s" x="1077" y="904.1"/>
<use href="#s" x="1085.2" y="899.2"/>
<use href="#s" x="1093.4" y="894.4"/>
<use href="#s" x="1101.7" y="889.5"/>
<use href="#s" x="1109.9" y="884.6"/>
<use href="#s" x="1118.1" y="879.8"/>
<use href="#s" x="1126.3" y="874.9"/>
<use href="#s" x="1134.5" y="870.1"/>
<use href="#s" x="1142.7" y="865.4"/>
<use href="#s" x="1150.9" y="860.6"/>
<use href="#s" x="1159.1" y="856"/>
<use href="#s" x="1167.3" y="851.3"/>
<use href="#s" x="1175.5" y="846.8"/>
<use href="#s" x="1183.8" y="842.4"/>
<use href="#s" x="1192" y="838"/>
<use href="#s" x="1200.2" y="833.8"/>
<use href="#s" x="1208.4" y="829.7"/>
<use href="#s" x="1216.6" y="825.7"/>
<use href="#s" x="1224.8" y="821.9"/>
<use href="#s" x="1233" y="818.2"/>
<use href="#s" x="1241.2" y="814.6"/>
<use href="#s" x="1249.4" y="811.1"/>
<use href="#s" x="1257.6" y="807.8"/>
<use href="#s" x="1265.8" y="804.5"/>
<use href="#s" x="1274.1" y="801.3"/>
<use href="#s" x="1282.3" y="798.2"/>
<use href="#s" x="1290.5" y="795.1"/>
<use href="#s" x="1298.7" y="792"/>
<use href="#s" x="1306.9" y="789"/>
<use href="#s" x="1315.1" y="785.9"/>
<use href="#s" x="1323.3" y="782.8"/>
<use href="#s" x="1331.5" y="779.7"/>
<use href="#s" x="1339.7" y="776.6"/>
<use href="#s" x="1348" y="773.5"/>
<use href="#s" x="1356.2" y="770.4"/>
<use href="#s" x="1364.4" y="767.2"/>
<use href="#s" x="1372.6" y="764"/>
<use href="#s" x="1380.8" y="760.7"/>
<use href="#s" x="1389" y="757.3"/>
<use href="#s" x="1389" y="758"/>
<use href="#s" x="1397.2" y="758.4"/>
<use href="#s" x="1405.4" y="758.5"/>
<use href="#s" x="1413.6" y="758.5"/>
<use href="#s" x="1421.8" y="758.3"/>
<use href="#s" x="1430" y="757.9"/>
<use href="#s" x="1438.3" y="757.3"/>
<use href="#s" x="1446.5" y="756.5"/>
<use href="#s" x="1454.7" y="755.6"/>
<use href="#s" x="1462.9" y="754.5"/>
<use href="#s" x="1471.1" y="753.2"/>
<use href="#s" x="1479.3" y="751.9"/>
<use href="#s" x="1487.5" y="750.4"/>
<use href="#s" x="1495.7" y="748.7"/>
<use href="#s" x="1503.9" y="747"/>
<use href="#s" x="1512.2" y="745.1"/>
<use href="#s" x="1520.4" y="743.1"/>
<use href="#s" x="1528.6" y="741"/>
<use href="#s" x="1536.8" y="738.8"/>
<use href="#s" x="1545" y="736.6"/>
<use href="#s" x="1553.2" y="734.2"/>
<use href="#s" x="1561.4" y="731.7"/>
<use href="#s" x="1569.6" y="729.2"/>
<use href="#s" x="1577.8" y="726.6"/>
<use href="#s" x="1586" y="723.9"/>
<use href="#s" x="1594.2" y="721.2"/>
<use href="#s" x="1602.5" y="718.3"/>
<use href="#s" x="1610.7" y="715.4"/>
<use href="#s" x="1618.9" y="712.5"/>
<use href="#s" x="1627.1" y="709.5"/>
<use href="#s" x="1635.3" y="706.4"/>
<use href="#s" x="1643.5" y="703.3"/>
<use href="#s" x="1651.7" y="700.1"/>
<use href="#s" x="1659.9" y="696.9"/>
<use href="#s" x="1668.1" y="693.6"/>
<use href="#s" x="1676.3" y="690.3"/>
<use href="#s" x="1684.6" y="686.9"/>
<use href="#s" x="1692.8" y="683.5"/>
<use href="#s" x="1701" y="680"/>
<use href="#s" x="1709.2" y="676.5"/>
<use href="#s" x="1717.4" y="672.9"/>
<use href="#s" x="1725.6" y="669.3"/>
<use href="#s" x="1733.8" y="665.6"/>
<use href="#s" x="1742" y="661.9"/>
<use href="#s" x="1750.2" y="658.1"/>
<use href="#s" x="1758.5" y="654.3"/>
<use href="#s" x="1766.7" y="650.4"/>
<use href="#s" x="1774.9" y="646.4"/>
<use href="#s" x="1783.1" y="642.4"/>
<use href="#s" x="1791.3" y="638.3"/>
<use href="#s" x="1799.5" y="634.1"/>
<use href="#s" x="1807.7" y="629.9"/>
<use href="#s" x="1815.9" y="625.5"/>
<use href="#s" x="1824.1" y="621.1"/>
<use href="#s" x="1832.3" y="616.7"/>
<use href="#s" x="1840.5" y="612.1"/>
<use href="#s" x="1848.8" y="607.4"/>
<use href="#s" x="1857" y="602.7"/>
<use href="#s" x="1865.2" y="597.8"/>
<use href="#s" x="1873.4" y="592.8"/>
<use href="#s" x="1881.6" y="587.8"/>
<use href="#s" x="1889.8" y="582.6"/>
<use href="#s" x="1898" y="577.2"/>
<use href="#s" x="1906.2" y="571.8"/>
<use href="#s" x="1914.4" y="566.3"/>
<use href="#s" x="1922.7" y="560.6"/>
<use href="#s" x="1930.9" y="555"/>
<use href="#s" x="1939.1" y="549.2"/>
<use href="#s" x="1947.3" y="543.5"/>
<use href="#s" x="1955.5" y="537.7"/>
<use href="#s" x="1963.7" y="532"/>
<use href="#s" x="1971.9" y="526.4"/>
<use href="#s" x="1980.1" y="520.6"/>
<use href="#s" x="1988.3" y="514.7"/>
<use href="#s" x="1996.5" y="508.5"/>
<use href="#s" x="2004.8" y="501.9"/>
<use href="#s" x="2013" y="494.7"/>
<use href="#s" x="2021.2" y="486.8"/>
<use href="#s" x="2029.4" y="478.1"/>
<use href="#s" x="2037.6" y="468.7"/>
<use href="#s" x="2045.8" y="458.7"/>
<use href="#s" x="2054" y="448.2"/>
<use href="#s" x="2062.2" y="437.3"/>
<use href="#s" x="2070.4" y="426"/>
<use href="#s" x="2078.6" y="414.4"/>
<use href="#w" x="2086.8" y="402"/>
<use href="#w" x="2095.1" y="388.4"/>
<use href="#w" x="2103.3" y="373.1"/>
<use href="#w" x="2111.5" y="356.4"/>
<use href="#w" x="2119.7" y="340"/>
<use href="#w" x="2127.9" y="325.9"/>
<use href="#w" x="2136.1" y="315.2"/>
<use href="#s" x="2144.3" y="307"/>
<use href="#s" x="2152.5" y="299.2"/>
<use href="#s" x="2160.7" y="290.1"/>
<use href="#s" x="2168.9" y="278.7"/>
<use href="#s" x="2177.2" y="264.9"/>
<use href="#s" x="2185.4" y="249.1"/>
<use href="#s" x="2193.6" y="233.2"/>
<use href="#s" x="2201.8" y="220.4"/>
<use href="#s" x="2210" y="206.4"/>
<use href="#s" x="2210" y="183.1"/>
<use href="#s" x="2201.8" y="192.1"/>
<use href="#s" x="2193.6" y="200.5"/>
<use href="#s" x="2185.4" y="208.5"/>
<use href="#s" x="2177.2" y="216.5"/>
<use href="#s" x="2168.9" y="224.6"/>
<use href="#s" x="2160.7" y="233"/>
<use href="#s" x="2152.5" y="241.6"/>
<use href="#s" x="2144.3" y="250.3"/>
<use href="#s" x="2136.1" y="259.1"/>
<use href="#s" x="2127.9" y="267.9"/>
<use href="#s" x="2119.7" y="276.6"/>
<use href="#s" x="2111.5" y="285.3"/>
<use href="#s" x="2103.3" y="293.9"/>
<use href="#s" x="2095.1" y="302.5"/>
<use href="#s" x="2086.8" y="311"/>
<use href="#s" x="2078.6" y="319.4"/>
<use href="#s" x="2070.4" y="327.7"/>
<use href="#s" x="2062.2" y="336"/>
<use href="#s" x="2054" y="344.2"/>
<use href="#s" x="2045.8" y="352.3"/>
<use href="#s" x="2037.6" y="360.4"/>
<use href="#s" x="2029.4" y="368.3"/>
<use href="#s" x="2021.2" y="376.2"/>
<use href="#s" x="2013" y="384.1"/>
<use href="#s" x="2004.8" y="391.8"/>
<use href="#s" x="1996.5" y="399.5"/>
<use href="#s" x="1988.3" y="407.1"/>
<use href="#s" x="1980.1" y="414.6"/>
<use href="#s" x="1971.9" y="422"/>
<use href="#s" x="1963.7" y="429.4"/>
<use href="#s" x="1955.5" y="436.7"/>
<use href="#s" x="1947.3" y="443.9"/>
<use href="#s" x="1939.1" y="451"/>
<use href="#s" x="1930.9" y="458"/>
<use href="#s" x="1922.7" y="465"/>
<use href="#s" x="1914.4" y="471.9"/>
<use href="#s" x="1906.2" y="478.6"/>
<use href="#s" x="1898" y="485.3"/>
<use href="#s" x="1889.8" y="491.9"/>
<use href="#s" x="1881.6" y="498.5"/>
<use href="#s" x="1873.4" y="504.9"/>
<use href="#s" x="1865.2" y="511.2"/>
<use href="#s" x="1857" y="517.4"/>
<use href="#s" x="1848.8" y="523.5"/>
<use href="#s" x="1840.5" y="529.4"/>
<use href="#s" x="1832.3" y="535.3"/>
<use href="#s" x="1824.1" y="541"/>
<use href="#s" x="1815.9" y="546.6"/>
<use href="#s" x="1807.7" y="552.1"/>
<use href="#s" x="1799.5" y="557.5"/>
<use href="#s" x="1791.3" y="562.8"/>
<use href="#s" x="1783.1" y="568"/>
<use href="#s" x="1774.9" y="573.2"/>
<use href="#s" x="1766.7" y="578.3"/>
<use href="#s" x="1758.5" y="583.4"/>
<use href="#s" x="1750.2" y="588.4"/>
<use href="#s" x="1742" y="593.5"/>
<use href="#s" x="1733.8" y="598.5"/>
<use href="#s" x="1725.6" y="603.5"/>
<use href="#s" x="1717.4" y="608.6"/>
<use href="#s" x="1709.2" y="613.6"/>
<use href="#s" x="1701" y="618.6"/>
<use href="#s" x="1692.8" y="623.5"/>
<use href="#s" x="1684.6" y="628.3"/>
<use href="#s" x="1676.3" y="633.1"/>
<use href="#s" x="1668.1" y="637.8"/>
<use href="#s" x="1659.9" y="642.3"/>
<use href="#s" x="1651.7" y="646.7"/>
<use href="#s" x="1643.5" y="651"/>
<use href="#s" x="1635.3" y="655.2"/>
<use href="#s" x="1627.1" y="659.2"/>
<use href="#s" x="1618.9" y="663.1"/>
<use href="#s" x="1610.7" y="666.9"/>
<use href="#s" x="1602.5" y="670.7"/>
<use href="#s" x="1594.2" y="674.4"/>
<use href="#s" x="1586" y="678.1"/>
<use href="#s" x="1577.8" y="681.7"/>
<use href="#s" x="1569.6" y="685.3"/>
<use href="#s" x="1561.4" y="688.9"/>
<use href="#s" x="1553.2" y="692.6"/>
<use href="#s" x="1545" y="696.2"/>
<use href="#s" x="1536.8" y="699.8"/>
<use href="#s" x="1528.6" y="703.3"/>
<use href="#s" x="1520.4" y="706.9"/>
<use href="#s" x="1512.2" y="710.4"/>
<use href="#s" x="1503.9" y="713.8"/>
<use href="#s" x="1495.7" y="717.2"/>
<use href="#s" x="1487.5" y="720.6"/>
<use href="#s" x="1479.3" y="723.9"/>
<use href="#s" x="1471.1" y="727.3"/>
<use href="#s" x="1462.9" y="730.7"/>
<use href="#s" x="1454.7" y="734.2"/>
<use href="#s" x="1446.5" y="737.8"/>
<use href="#s" x="1438.3" y="741.3"/>
<use href="#s" x="1430" y="744.6"/>
<use href="#s" x="1421.8" y="747.8"/>
<use href="#s" x="1413.6" y="750.5"/>
<use href="#s" x="1405.4" y="752.9"/>
<use href="#s" x="1397.2" y="754.9"/>
<use href="#s" x="1389" y="756.7"/>
<use href="#s" x="1389" y="753.8"/>
<use href="#s" x="1380.8" y="756.5"/>
<use href="#s" x="1372.6" y="759.2"/>
<use href="#s" x="1364.4" y="761.9"/>
<use href="#s" x="1356.2" y="764.5"/>
<use href="#s" x="1348" y="767"/>
<use href="#s" x="1339.7" y="769.5"/>
<use href="#s" x="1331.5" y="772"/>
<use href="#s" x="1323.3" y="774.4"/>
<use href="#s" x="1315.1" y="776.9"/>
<use href="#s" x="1306.9" y="779.3"/>
<use href="#s" x="1298.7" y="781.7"/>
<use href="#s" x="1290.5" y="784.1"/>
<use href="#s" x="1282.3" y="786.5"/>
<use href="#s" x="1274.1" y="788.9"/>
<use href="#s" x="1265.8" y="791.3"/>
<use href="#s" x="1257.6" y="793.7"/>
<use href="#s" x="1249.4" y="796.2"/>
<use href="#s" x="1241.2" y="798.7"/>
<use href="#s" x="1233" y="801.2"/>
<use href="#s" x="1224.8" y="803.7"/>
<use href="#s" x="1216.6" y="806.3"/>
<use href="#s" x="1208.4" y="808.9"/>
<use href="#s" x="1200.2" y="811.6"/>
<use href="#s" x="1192" y="814.3"/>
<use href="#s" x="1183.8" y="817.1"/>
<use href="#s" x="1175.5" y="820"/>
<use href="#s" x="1167.3" y="822.9"/>
<use href="#s" x="1159.1" y="825.8"/>
<use href="#s" x="1150.9" y="828.9"/>
<use href="#s" x="1142.7" y="832"/>
<use href="#s" x="1134.5" y="835.2"/>
<use href="#s" x="1126.3" y="838.4"/>
<use href="#s" x="1118.1" y="841.8"/>
<use href="#s" x="1109.9" y="845.2"/>
<use href="#s" x="1101.7" y="848.8"/>
<use href="#s" x="1093.4" y="852.4"/>
<use href="#s" x="1085.2" y="856.1"/>
<use href="#s" x="1077" y="859.9"/>
<use href="#s" x="1068.8" y="863.8"/>
<use href="#s" x="1060.6" y="867.8"/>
<use href="#s" x="1052.4" y="871.9"/>
<use href="#s" x="1044.2" y="876.1"/>
<use href="#s" x="1036" y="880.4"/>
<use href="#s" x="1027.8" y="884.8"/>
<use href="#s" x="1019.5" y="889.4"/>
<use href="#s" x="1011.3" y="894"/>
<use href="#s" x="1003.1" y="898.8"/>
<use href="#s" x="994.9" y="903.6"/>
<use href="#s" x="986.7" y="908.6"/>
<use href="#s" x="978.5" y="913.7"/>
<use href="#s" x="970.3" y="918.9"/>
<use href="#s" x="962.1" y="924.3"/>
<use href="#s" x="953.9" y="929.7"/>
<use href="#s" x="945.7" y="935.3"/>
<use href="#s" x="937.5" y="940.9"/>
<use href="#s" x="929.2" y="946.7"/>
<use href="#s" x="921" y="952.7"/>
<use href="#s" x="912.8" y="958.7"/>
<use href="#s" x="904.6" y="964.8"/>
<use href="#s" x="896.4" y="971"/>
<use href="#s" x="888.2" y="977.4"/>
<use href="#s" x="880" y="983.8"/>
<use href="#s" x="871.8" y="990.4"/>
<use href="#s" x="863.6" y="997"/>
<use href="#s" x="855.4" y="1003.7"/>
<use href="#s" x="847.1" y="1010.5"/>
<use href="#s" x="838.9" y="1017.3"/>
<use href="#s" x="830.7" y="1024.2"/>
<use href="#s" x="822.5" y="1031.2"/>
<use href="#s" x="814.3" y="1038.3"/>
<use href="#s" x="806.1" y="1045.4"/>
<use href="#s" x="797.9" y="1052.6"/>
<use href="#s" x="789.7" y="1059.8"/>
<use href="#s" x="781.5" y="1067.2"/>
<use href="#s" x="773.2" y="1074.7"/>
<use href="#s" x="765" y="1082.3"/>
<use href="#s" x="756.8" y="1090"/>
<use href="#s" x="748.6" y="1097.8"/>
<use href="#s" x="740.4" y="1105.9"/>
<use href="#s" x="732.2" y="1114.1"/>
<use href="#s" x="724" y="1122.5"/>
<use href="#s" x="715.8" y="1131.1"/>
<use href="#s" x="707.6" y="1140"/>
<use href="#s" x="699.4" y="1149"/>
<use href="#s" x="691.2" y="1158.1"/>
<use href="#s" x="682.9" y="1167.5"/>
<use href="#s" x="674.7" y="1177"/>
<use href="#s" x="666.5" y="1186.6"/>
<use href="#s" x="658.3" y="1196.3"/>
<use href="#s" x="650.1" y="1206.1"/>
<use href="#s" x="641.9" y="1216"/>
<use href="#s" x="633.7" y="1225.9"/>
<use href="#s" x="625.5" y="1235.8"/>
<use href="#s" x="617.3" y="1245.7"/>
<use href="#s" x="609.1" y="1255.7"/>
<use href="#s" x="600.8" y="1265.6"/>
<use href="#s" x="592.6" y="1275.5"/>
<use href="#s" x="584.4" y="1285.4"/>
<use href="#s" x="576.2" y="1295.3"/>
<use href="#s" x="568" y="1305.2"/>
<use href="#s" x="568" y="1318.7"/>
<use href="#s" x="576.2" y="1311"/>
<use href="#s" x="584.4" y="1303.2"/>
<use href="#s" x="592.6" y="1295.3"/>
<use href="#s" x="600.8" y="1287.3"/>
<use href="#s" x="609.1" y="1279.3"/>
<use href="#s" x="617.3" y="1271.2"/>
<use href="#s" x="625.5" y="1263"/>
<use href="#s" x="633.7" y="1254.8"/>
<use href="#s" x="641.9" y="1246.7"/>
<use href="#s" x="650.1" y="1238.6"/>
<use href="#s" x="658.3" y="1230.7"/>
<use href="#s" x="666.5" y="1222.8"/>
<use href="#s" x="674.7" y="1215.1"/>
<use href="#s" x="682.9" y="1207.6"/>
<use href="#s" x="691.2" y="1200.2"/>
<use href="#s" x="699.4" y="1193"/>
<use href="#s" x="707.6" y="1185.9"/>
<use href="#s" x="715.8" y="1178.8"/>
<use href="#s" x="724" y="1171.9"/>
<use href="#s" x="732.2" y="1164.9"/>
<use href="#s" x="740.4" y="1158"/>
<use href="#s" x="748.6" y="1151"/>
<use href="#s" x="756.8" y="1144.1"/>
<use href="#s" x="765" y="1137.1"/>
<use href="#s" x="773.2" y="1130.1"/>
<use href="#s" x="781.5" y="1123.1"/>
<use href="#s" x="789.7" y="1116.1"/>
<use href="#s" x="797.9" y="1109.1"/>
<use href="#s" x="806.1" y="1102.1"/>
<use href="#s" x="814.3" y="1095.1"/>
<use href="#s" x="822.5" y="1088.1"/>
<use href="#s" x="830.7" y="1081.2"/>
<use href="#s" x="838.9" y="1074.3"/>
<use href="#s" x="847.1" y="1067.4"/>
<use href="#s" x="855.4" y="1060.6"/>
<use href="#s" x="863.6" y="1053.8"/>
<use href="#s" x="871.8" y="1047"/>
<use href="#s" x="880" y="1040.2"/>
<use href="#s" x="888.2" y="1033.4"/>
<use href="#s" x="896.4" y="1026.7"/>
<use href="#s" x="904.6" y="1020"/>
<use href="#s" x="912.8" y="1013.3"/>
<use href="#s" x="921" y="1006.7"/>
<use href="#s" x="929.2" y="1000.2"/>
<use href="#s" x="937.5" y="993.8"/>
<use href="#s" x="945.7" y="987.6"/>
<use href="#s" x="953.9" y="981.6"/>
<use href="#s" x="962.1" y="975.7"/>
<use href="#s" x="970.3" y="970"/>
<use href="#s" x="978.5" y="964.5"/>
<use href="#s" x="986.7" y="959.2"/>
<use href="#s" x="994.9" y="954"/>
<use href="#s" x="1003.1" y="949"/>
<use href="#s" x="1011.3" y="944"/>
<use href="#s" x="1019.5" y="939.1"/>
<use href="#s" x="1027.8" y="934.2"/>
<use href="#s" x="1036" y="929.4"/>
<use href="#s" x="1044.2" y="924.5"/>
<use href="#s" x="1052.4" y="919.7"/>
<use href="#s" x="1060.6" y="914.8"/>
<use href="#s" x="1068.8" y="910"/>
<use href="#s" x="1077" y="905.1"/>
<use href="#s" x="1085.2" y="900.2"/>
<use href="#s" x="1093.4" y="895.4"/>
<use href="#s" x="1101.7" y="890.5"/>
<use href="#s" x="1109.9" y="885.6"/>
<use href="#s" x="1118.1" y="880.8"/>
<use href="#s" x="1126.3" y="875.9"/>
<use href="#s" x="1134.5" y="871.1"/>
<use href="#s" x="1142.7" y="866.4"/>
<use href="#s" x="1150.9" y="861.6"/>
<use href="#s" x="1159.1" y="857"/>
<use href="#s" x="1167.3" y="852.3"/>
<use href="#s" x="1175.5" y="847.8"/>
<use href="#s" x="1183.8" y="843.4"/>
<use href="#s" x="1192" y="839"/>
<use href="#s" x="1200.2" y="834.8"/>
<use href="#s" x="1208.4" y="830.7"/>
<use href="#s" x="1216.6" y="826.7"/>
<use href="#s" x="1224.8" y="822.9"/>
<use href="#s" x="1233" y="819.2"/>
<use href="#s" x="1241.2" y="815.6"/>
<use href="#s" x="1249.4" y="812.1"/>
<use href="#s" x="1257.6" y="808.8"/>
<use href="#s" x="1265.8" y="805.5"/>
<use href="#s" x="1274.1" y="802.3"/>
<use href="#s" x="1282.3" y="799.2"/>
<use href="#s" x="1290.5" y="796.1"/>
<use href="#s" x="1298.7" y="793"/>
<use href="#s" x="1306.9" y="790"/>
<use href="#s" x="1315.1" y="786.9"/>
<use href="#s" x="1323.3" y="783.8"/>
<use href="#s" x="1331.5" y="780.7"/>
<use href="#s" x="1339.7" y="777.6"/>
<use href="#s" x="1348" y="774.3"/>
<use href="#s" x="1356.2" y="771.1"/>
<use href="#s" x="1364.4" y="767.7"/>
<use href="#s" x="1372.6" y="764.3"/>
<use href="#s" x="1380.8" y="760.9"/>
<use href="#s" x="1389" y="757.3"/>
<path d="M1392.8 734.1L1413.3 727L1446.8 727L1426.3 734.1Z" fill="#161616" fill-opacity="0.45"/>
<path d="M1413.3 727L1433.8 718.3L1467.3 718.3L1446.8 727Z" fill="#161616" fill-opacity="0.88"/>
<path d="M1433.8 718.3L1454.3 709.7L1487.8 709.7L1467.3 718.3Z" fill="#161616" fill-opacity="0.88"/>
<path d="M1454.3 709.7L1474.9 701.2L1508.4 701.2L1487.8 709.7Z" fill="#161616" fill-opacity="0.88"/>
<path d="M1474.9 701.2L1495.4 692.7L1528.9 692.7L1508.4 701.2Z" fill="#161616" fill-opacity="0.88"/>
<path d="M1495.4 692.7L1515.9 683.9L1549.4 683.9L1528.9 692.7Z" fill="#161616" fill-opacity="0.87"/>
<path d="M1515.9 683.9L1536.5 674.9L1570 674.9L1549.4 683.9Z" fill="#161616" fill-opacity="0.87"/>
<path d="M1536.5 674.9L1557 665.9L1590.5 665.9L1570 674.9Z" fill="#161616" fill-opacity="0.87"/>
<path d="M1557 665.9L1577.5 656.7L1611 656.7L1590.5 665.9Z" fill="#161616" fill-opacity="0.87"/>
<path d="M1577.5 656.7L1598 647.4L1631.5 647.4L1611 656.7Z" fill="#161616" fill-opacity="0.86"/>
<path d="M1598 647.4L1618.5 637.5L1652 637.5L1631.5 647.4Z" fill="#161616" fill-opacity="0.85"/>
<path d="M1618.5 637.5L1639.1 626.9L1672.6 626.9L1652 637.5Z" fill="#161616" fill-opacity="0.79"/>
<path d="M1639.1 626.9L1659.6 615.5L1693.1 615.5L1672.6 626.9Z" fill="#161616" fill-opacity="0.72"/>
<path d="M1659.6 615.5L1680.1 603.4L1713.6 603.4L1693.1 615.5Z" fill="#161616" fill-opacity="0.66"/>
<path d="M1680.1 603.4L1700.7 590.9L1734.2 590.9L1713.6 603.4Z" fill="#161616" fill-opacity="0.62"/>
<path d="M1700.7 590.9L1721.2 578.3L1754.7 578.3L1734.2 590.9Z" fill="#161616" fill-opacity="0.61"/>
<path d="M1721.2 578.3L1741.7 565.7L1775.2 565.7L1754.7 578.3Z" fill="#161616" fill-opacity="0.61"/>
<path d="M1741.7 565.7L1762.2 553L1795.7 553L1775.2 565.7Z" fill="#161616" fill-opacity="0.59"/>
<path d="M1762.2 553L1782.8 539.9L1816.2 539.9L1795.7 553Z" fill="#161616" fill-opacity="0.56"/>
<path d="M1782.8 539.9L1803.3 526.2L1836.8 526.2L1816.2 539.9Z" fill="#161616" fill-opacity="0.50"/>
<path d="M1803.3 526.2L1823.8 511.8L1857.3 511.8L1836.8 526.2Z" fill="#161616" fill-opacity="0.42"/>
<path d="M1823.8 511.8L1844.3 496.6L1877.8 496.6L1857.3 511.8Z" fill="#161616" fill-opacity="0.35"/>
<path d="M1844.3 496.6L1864.8 480.8L1898.3 480.8L1877.8 496.6Z" fill="#161616" fill-opacity="0.30"/>
<path d="M1864.8 480.8L1885.4 464.4L1918.9 464.4L1898.3 480.8Z" fill="#161616" fill-opacity="0.25"/>
<path d="M1885.4 464.4L1905.9 447.3L1939.4 447.3L1918.9 464.4Z" fill="#161616" fill-opacity="0.21"/>
<path d="M1905.9 447.3L1926.4 429.8L1959.9 429.8L1939.4 447.3Z" fill="#161616" fill-opacity="0.17"/>
<path d="M1926.4 429.8L1946.9 411.7L1980.4 411.7L1959.9 429.8Z" fill="#161616" fill-opacity="0.14"/>
<path d="M1946.9 411.7L1967.5 393.2L2001 393.2L1980.4 411.7Z" fill="#161616" fill-opacity="0.12"/>
<path d="M1967.5 393.2L1988 374.2L2021.5 374.2L2001 393.2Z" fill="#161616" fill-opacity="0.10"/>
<path d="M1988 374.2L2008.5 354.6L2042 354.6L2021.5 374.2Z" fill="#161616" fill-opacity="0.07"/>
<path d="M2008.5 354.6L2029 334.7L2062.6 334.7L2042 354.6Z" fill="#161616" fill-opacity="0.05"/>
<path d="M2029 334.7L2049.6 314.2L2083.1 314.2L2062.6 334.7Z" fill="#161616" fill-opacity="0.04"/>
<path d="M2049.6 314.2L2070.1 293.3L2103.6 293.3L2083.1 314.2Z" fill="#161616" fill-opacity="0.03"/>
<path d="M2070.1 293.3L2090.6 272L2124.1 272L2103.6 293.3Z" fill="#161616" fill-opacity="0.02"/>
<path d="M2090.6 272L2111.2 250.2L2144.7 250.2L2124.1 272Z" fill="#161616" fill-opacity="0.02"/>
<path d="M1392.8 776.2L1413.3 775.5L1446.8 775.5L1426.3 776.2Z" fill="#161616" fill-opacity="0.45"/>
<path d="M1413.3 775.5L1433.8 773.7L1467.3 773.7L1446.8 775.5Z" fill="#161616" fill-opacity="0.90"/>
<path d="M1433.8 773.7L1454.3 770.9L1487.8 770.9L1467.3 773.7Z" fill="#161616" fill-opacity="0.90"/>
<path d="M1454.3 770.9L1474.9 767.2L1508.4 767.2L1487.8 770.9Z" fill="#161616" fill-opacity="0.90"/>
<path d="M1474.9 767.2L1495.4 762.8L1528.9 762.8L1508.4 767.2Z" fill="#161616" fill-opacity="0.90"/>
<path d="M1495.4 762.8L1515.9 757.6L1549.4 757.6L1528.9 762.8Z" fill="#161616" fill-opacity="0.90"/>
<path d="M1515.9 757.6L1536.5 751.8L1570 751.8L1549.4 757.6Z" fill="#161616" fill-opacity="0.90"/>
<path d="M1536.5 751.8L1557 745.6L1590.5 745.6L1570 751.8Z" fill="#161616" fill-opacity="0.90"/>
<path d="M1557 745.6L1577.5 738.8L1611 738.8L1590.5 745.6Z" fill="#161616" fill-opacity="0.90"/>
<path d="M1577.5 738.8L1598 731.6L1631.5 731.6L1611 738.8Z" fill="#161616" fill-opacity="0.90"/>
<path d="M1598 731.6L1618.5 724.1L1652 724.1L1631.5 731.6Z" fill="#161616" fill-opacity="0.90"/>
<path d="M1618.5 724.1L1639.1 716.2L1672.6 716.2L1652 724.1Z" fill="#161616" fill-opacity="0.89"/>
<path d="M1639.1 716.2L1659.6 708L1693.1 708L1672.6 716.2Z" fill="#161616" fill-opacity="0.89"/>
<path d="M1659.6 708L1680.1 699.4L1713.6 699.4L1693.1 708Z" fill="#161616" fill-opacity="0.88"/>
<path d="M1680.1 699.4L1700.7 690.6L1734.2 690.6L1713.6 699.4Z" fill="#161616" fill-opacity="0.87"/>
<path d="M1700.7 690.6L1721.2 681.4L1754.7 681.4L1734.2 690.6Z" fill="#161616" fill-opacity="0.87"/>
<path d="M1721.2 681.4L1741.7 671.9L1775.2 671.9L1754.7 681.4Z" fill="#161616" fill-opacity="0.86"/>
<path d="M1741.7 671.9L1762.2 662L1795.7 662L1775.2 671.9Z" fill="#161616" fill-opacity="0.85"/>
<path d="M1762.2 662L1782.8 651.7L1816.2 651.7L1795.7 662Z" fill="#161616" fill-opacity="0.82"/>
<path d="M1782.8 651.7L1803.3 641L1836.8 641L1816.2 651.7Z" fill="#161616" fill-opacity="0.78"/>
<path d="M1803.3 641L1823.8 629.7L1857.3 629.7L1836.8 641Z" fill="#161616" fill-opacity="0.73"/>
<path d="M1823.8 629.7L1844.3 617.9L1877.8 617.9L1857.3 629.7Z" fill="#161616" fill-opacity="0.68"/>
<path d="M1844.3 617.9L1864.8 605.4L1898.3 605.4L1877.8 617.9Z" fill="#161616" fill-opacity="0.62"/>
<path d="M1864.8 605.4L1885.4 592.2L1918.9 592.2L1898.3 605.4Z" fill="#161616" fill-opacity="0.55"/>
<path d="M1885.4 592.2L1905.9 578.3L1939.4 578.3L1918.9 592.2Z" fill="#161616" fill-opacity="0.48"/>
<path d="M1905.9 578.3L1926.4 564L1959.9 564L1939.4 578.3Z" fill="#161616" fill-opacity="0.43"/>
<path d="M1926.4 564L1946.9 549.7L1980.4 549.7L1959.9 564Z" fill="#161616" fill-opacity="0.43"/>
<path d="M1946.9 549.7L1967.5 535.3L2001 535.3L1980.4 549.7Z" fill="#161616" fill-opacity="0.43"/>
<path d="M1967.5 535.3L1988 519.6L2021.5 519.6L2001 535.3Z" fill="#161616" fill-opacity="0.30"/>
<path d="M1988 519.6L2008.5 500.2L2042 500.2L2021.5 519.6Z" fill="#161616" fill-opacity="0.08"/>
<path d="M1351.7 742.9L1331.2 749.4L1364.7 749.4L1385.2 742.9Z" fill="#161616" fill-opacity="0.45"/>
<path d="M1331.2 749.4L1310.7 755.6L1344.2 755.6L1364.7 749.4Z" fill="#161616" fill-opacity="0.90"/>
<path d="M1310.7 755.6L1290.2 761.6L1323.7 761.6L1344.2 755.6Z" fill="#161616" fill-opacity="0.90"/>
<path d="M1290.2 761.6L1269.6 767.6L1303.1 767.6L1323.7 761.6Z" fill="#161616" fill-opacity="0.90"/>
<path d="M1269.6 767.6L1249.1 773.6L1282.6 773.6L1303.1 767.6Z" fill="#161616" fill-opacity="0.90"/>
<path d="M1249.1 773.6L1228.6 779.8L1262.1 779.8L1282.6 773.6Z" fill="#161616" fill-opacity="0.90"/>
<path d="M1228.6 779.8L1208 786.1L1241.5 786.1L1262.1 779.8Z" fill="#161616" fill-opacity="0.90"/>
<path d="M1208 786.1L1187.5 792.6L1221 792.6L1241.5 786.1Z" fill="#161616" fill-opacity="0.90"/>
<path d="M1187.5 792.6L1167 799.5L1200.5 799.5L1221 792.6Z" fill="#161616" fill-opacity="0.90"/>
<path d="M1167 799.5L1146.5 806.7L1180 806.7L1200.5 799.5Z" fill="#161616" fill-opacity="0.90"/>
<path d="M1146.5 806.7L1126 814.3L1159.5 814.3L1180 806.7Z" fill="#161616" fill-opacity="0.90"/>
<path d="M1126 814.3L1105.4 822.5L1138.9 822.5L1159.5 814.3Z" fill="#161616" fill-opacity="0.89"/>
<path d="M1105.4 822.5L1084.9 831.1L1118.4 831.1L1138.9 822.5Z" fill="#161616" fill-opacity="0.88"/>
<path d="M1084.9 831.1L1064.4 840.3L1097.9 840.3L1118.4 831.1Z" fill="#161616" fill-opacity="0.87"/>
<path d="M1064.4 840.3L1043.8 850.1L1077.3 850.1L1097.9 840.3Z" fill="#161616" fill-opacity="0.85"/>
<path d="M1043.8 850.1L1023.3 860.6L1056.8 860.6L1077.3 850.1Z" fill="#161616" fill-opacity="0.81"/>
<path d="M1023.3 860.6L1002.8 871.7L1036.3 871.7L1056.8 860.6Z" fill="#161616" fill-opacity="0.75"/>
<path d="M1002.8 871.7L982.3 883.5L1015.8 883.5L1036.3 871.7Z" fill="#161616" fill-opacity="0.68"/>
<path d="M982.3 883.5L961.8 896.1L995.2 896.1L1015.8 883.5Z" fill="#161616" fill-opacity="0.62"/>
<path d="M961.8 896.1L941.2 909.3L974.7 909.3L995.2 896.1Z" fill="#161616" fill-opacity="0.54"/>
<path d="M941.2 909.3L920.7 923.3L954.2 923.3L974.7 909.3Z" fill="#161616" fill-opacity="0.47"/>
<path d="M920.7 923.3L900.2 938L933.7 938L954.2 923.3Z" fill="#161616" fill-opacity="0.39"/>
<path d="M900.2 938L879.7 953.4L913.2 953.4L933.7 938Z" fill="#161616" fill-opacity="0.33"/>
<path d="M879.7 953.4L859.1 969.4L892.6 969.4L913.2 953.4Z" fill="#161616" fill-opacity="0.28"/>
<path d="M859.1 969.4L838.6 986L872.1 986L892.6 969.4Z" fill="#161616" fill-opacity="0.24"/>
<path d="M838.6 986L818.1 1003.1L851.6 1003.1L872.1 986Z" fill="#161616" fill-opacity="0.20"/>
<path d="M818.1 1003.1L797.6 1020.6L831.1 1020.6L851.6 1003.1Z" fill="#161616" fill-opacity="0.17"/>
<path d="M797.6 1020.6L777 1038.5L810.5 1038.5L831.1 1020.6Z" fill="#161616" fill-opacity="0.15"/>
<path d="M777 1038.5L756.5 1057L790 1057L810.5 1038.5Z" fill="#161616" fill-opacity="0.12"/>
<path d="M756.5 1057L736 1076.2L769.5 1076.2L790 1057Z" fill="#161616" fill-opacity="0.09"/>
<path d="M736 1076.2L715.5 1096.5L749 1096.5L769.5 1076.2Z" fill="#161616" fill-opacity="0.05"/>
<path d="M715.5 1096.5L694.9 1117.9L728.4 1117.9L749 1096.5Z" fill="#161616" fill-opacity="0.02"/>
<path d="M1351.7 783.7L1331.2 792L1364.7 792L1385.2 783.7Z" fill="#161616" fill-opacity="0.44"/>
<path d="M1331.2 792L1310.7 799.9L1344.2 799.9L1364.7 792Z" fill="#161616" fill-opacity="0.89"/>
<path d="M1310.7 799.9L1290.2 807.6L1323.7 807.6L1344.2 799.9Z" fill="#161616" fill-opacity="0.90"/>
<path d="M1290.2 807.6L1269.6 815.3L1303.1 815.3L1323.7 807.6Z" fill="#161616" fill-opacity="0.90"/>
<path d="M1269.6 815.3L1249.1 823.2L1282.6 823.2L1303.1 815.3Z" fill="#161616" fill-opacity="0.89"/>
<path d="M1249.1 823.2L1228.6 831.5L1262.1 831.5L1282.6 823.2Z" fill="#161616" fill-opacity="0.88"/>
<path d="M1228.6 831.5L1208 840.6L1241.5 840.6L1262.1 831.5Z" fill="#161616" fill-opacity="0.87"/>
<path d="M1208 840.6L1187.5 850.4L1221 850.4L1241.5 840.6Z" fill="#161616" fill-opacity="0.85"/>
<path d="M1187.5 850.4L1167 861L1200.5 861L1221 850.4Z" fill="#161616" fill-opacity="0.79"/>
<path d="M1167 861L1146.5 872.3L1180 872.3L1200.5 861Z" fill="#161616" fill-opacity="0.73"/>
<path d="M1146.5 872.3L1126 884L1159.5 884L1180 872.3Z" fill="#161616" fill-opacity="0.69"/>
<path d="M1126 884L1105.4 896L1138.9 896L1159.5 884Z" fill="#161616" fill-opacity="0.67"/>
<path d="M1105.4 896L1084.9 908.1L1118.4 908.1L1138.9 896Z" fill="#161616" fill-opacity="0.65"/>
<path d="M1084.9 908.1L1064.4 920.3L1097.9 920.3L1118.4 908.1Z" fill="#161616" fill-opacity="0.65"/>
<path d="M1064.4 920.3L1043.8 932.5L1077.3 932.5L1097.9 920.3Z" fill="#161616" fill-opacity="0.65"/>
<path d="M1043.8 932.5L1023.3 944.6L1056.8 944.6L1077.3 932.5Z" fill="#161616" fill-opacity="0.66"/>
<path d="M1023.3 944.6L1002.8 956.7L1036.3 956.7L1056.8 944.6Z" fill="#161616" fill-opacity="0.65"/>
<path d="M1002.8 956.7L982.3 969.1L1015.8 969.1L1036.3 956.7Z" fill="#161616" fill-opacity="0.63"/>
<path d="M982.3 969.1L961.8 982.2L995.2 982.2L1015.8 969.1Z" fill="#161616" fill-opacity="0.56"/>
<path d="M961.8 982.2L941.2 996.3L974.7 996.3L995.2 982.2Z" fill="#161616" fill-opacity="0.46"/>
<path d="M941.2 996.3L920.7 1011.5L954.2 1011.5L974.7 996.3Z" fill="#161616" fill-opacity="0.34"/>
<path d="M920.7 1011.5L900.2 1027.6L933.7 1027.6L954.2 1011.5Z" fill="#161616" fill-opacity="0.27"/>
<path d="M900.2 1027.6L879.7 1044.3L913.2 1044.3L933.7 1027.6Z" fill="#161616" fill-opacity="0.23"/>
<path d="M879.7 1044.3L859.1 1061.2L892.6 1061.2L913.2 1044.3Z" fill="#161616" fill-opacity="0.21"/>
<path d="M859.1 1061.2L838.6 1078.3L872.1 1078.3L892.6 1061.2Z" fill="#161616" fill-opacity="0.21"/>
<path d="M838.6 1078.3L818.1 1095.4L851.6 1095.4L872.1 1078.3Z" fill="#161616" fill-opacity="0.20"/>
<path d="M818.1 1095.4L797.6 1112.7L831.1 1112.7L851.6 1095.4Z" fill="#161616" fill-opacity="0.18"/>
<path d="M797.6 1112.7L777 1130.2L810.5 1130.2L831.1 1112.7Z" fill="#161616" fill-opacity="0.17"/>
<path d="M777 1130.2L756.5 1147.8L790 1147.8L810.5 1130.2Z" fill="#161616" fill-opacity="0.17"/>
<path d="M756.5 1147.8L736 1165.2L769.5 1165.2L790 1147.8Z" fill="#161616" fill-opacity="0.17"/>
<path d="M736 1165.2L715.5 1182.6L749 1182.6L769.5 1165.2Z" fill="#161616" fill-opacity="0.18"/>
<path d="M715.5 1182.6L694.9 1200L728.4 1200L749 1182.6Z" fill="#161616" fill-opacity="0.18"/>
<path d="M694.9 1200L674.4 1217.9L707.9 1217.9L728.4 1200Z" fill="#161616" fill-opacity="0.15"/>
<path d="M674.4 1217.9L653.9 1236.6L687.4 1236.6L707.9 1217.9Z" fill="#161616" fill-opacity="0.11"/>
<path d="M653.9 1236.6L633.4 1256.3L666.9 1256.3L687.4 1236.6Z" fill="#161616" fill-opacity="0.07"/>
<path d="M633.4 1256.3L612.8 1276.6L646.3 1276.6L666.9 1256.3Z" fill="#161616" fill-opacity="0.04"/>
<path d="M612.8 1276.6L592.3 1296.9L625.8 1296.9L646.3 1276.6Z" fill="#161616" fill-opacity="0.04"/>
<path d="M592.3 1296.9L571.8 1316.9L605.3 1316.9L625.8 1296.9Z" fill="#161616" fill-opacity="0.05"/>
<path d="M571.8 1316.9L551.2 1336.3L584.8 1336.3L605.3 1316.9Z" fill="#161616" fill-opacity="0.08"/>
<path d="M1413.6 754.5 L1421.8 752 L1430 749.3 L1438.3 746.3 L1446.5 743.1 L1454.7 739.9 L1462.9 736.6 L1471.1 734.3 L1479.3 731.9 L1487.5 729.5 L1495.7 727 L1503.9 724.4 L1512.2 721.7 L1520.4 719 L1528.6 716.2 L1536.8 713.3 L1545 710.4 L1553.2 707.4 L1561.4 704.3 L1569.6 701.3 L1577.8 698.1 L1586 695 L1594.2 691.8 L1602.5 688.5 L1610.7 685.2 L1618.9 681.8 L1627.1 678.3 L1635.3 674.8 L1643.5 671.2 L1651.7 667.4 L1659.9 663.6 L1668.1 659.7 L1676.4 655.7 L1684.6 651.6 L1692.8 647.5 L1701 643.3 L1709.2 639 L1717.4 634.7 L1725.6 630.4 L1733.8 626.1 L1742 621.7 L1750.2 617.3 L1758.5 612.8 L1766.7 608.3 L1774.9 603.8 L1783.1 599.2 L1791.3 594.5 L1799.5 589.8 L1807.7 585.2 L1815.9 580.4 L1824.1 575.6 L1832.3 570.7 L1840.6 565.6 L1848.8 560.5 L1857 555.2 L1865.2 549.9 L1873.4 544.4 L1881.6 538.8 L1889.8 533.2 L1898 527.4 L1906.2 521.5 L1914.4 515.5 L1922.7 509.4 L1930.9 503.4 L1939.1 497.2 L1947.3 491.1 L1955.5 484.9 L1963.7 478.6 L1971.9 472.4 L1980.1 466 L1988.3 459.6 L1996.5 453 L2004.8 446.1 L2013 438.9 L2021.2 431.2 L2029.4 423.2 L2029.4 423.2 L2021.2 431.8 L2013 439.9 L2004.8 447.6 L1996.5 455.1 L1988.3 462.2 L1980.1 469.2 L1971.9 476 L1963.7 482.8 L1955.5 489.6 L1947.3 496.3 L1939.1 503 L1930.9 509.6 L1922.7 516.2 L1914.4 522.6 L1906.2 529 L1898 535.2 L1889.8 541.3 L1881.6 547.4 L1873.4 553.3 L1865.2 559.1 L1857 564.8 L1848.8 570.4 L1840.6 575.9 L1832.3 581.3 L1824.1 586.6 L1815.9 591.7 L1807.7 596.8 L1799.5 601.8 L1791.3 606.5 L1783.1 611.2 L1774.9 615.8 L1766.7 620.3 L1758.5 624.8 L1750.2 629.3 L1742 633.7 L1733.8 638.1 L1725.6 642.4 L1717.4 646.7 L1709.2 651 L1701 655.3 L1692.8 659.5 L1684.6 663.6 L1676.4 667.7 L1668.1 671.7 L1659.9 675.6 L1651.7 679.4 L1643.5 683.2 L1635.3 686.8 L1627.1 690.3 L1618.9 693.8 L1610.7 697.2 L1602.5 700.5 L1594.2 703.8 L1586 707 L1577.8 710.1 L1569.6 713.3 L1561.4 716.3 L1553.2 719.4 L1545 722.4 L1536.8 725.3 L1528.6 728.2 L1520.4 731 L1512.2 733.7 L1503.9 736.4 L1495.7 739 L1487.5 741.5 L1479.3 743.9 L1471.1 746.3 L1462.9 748.6 L1454.7 749.9 L1446.5 751.1 L1438.3 752.3 L1430 753.3 L1421.8 754 L1413.6 754.5 Z" fill="#1c1c1c" fill-opacity="0.78"/>
<use href="#w" x="1389" y="758"/>
</g>
<rect x="1470" y="785" width="930" height="665" fill="#fff"/>
<g filter="url(#b2)">
<g class="iax">
<rect x="1596.7" y="812.5" width="777.3" height="511.79999999999995"/>
<path d="M1985.0 812.5V1324.3 M1596.7 1068.9H2374.0"/>
</g>
<path d="M1595.7 1325.1H2375.0" stroke="#6a6a6a" stroke-width="4" fill="none"/>
<path class="itk" d="M1633 1324.3v10 M1985 1324.3v10 M2337 1324.3v10 M1809 1324.3v6 M2161 1324.3v6 M1596.7 1324.9h-10 M1596.7 1196.9h-10 M1596.7 1068.9h-10 M1596.7 940.9h-10 M1596.7 812.9h-10 M1596.7 1260.9h-6 M1596.7 1132.9h-6 M1596.7 1004.9h-6 M1596.7 876.9h-6"/>
<g class="il">
<text x="1582.5" y="827.8" text-anchor="end">4</text>
<text x="1582.5" y="955.8" text-anchor="end">2</text>
<text x="1582.5" y="1083.8" text-anchor="end">0</text>
<text x="1582.5" y="1211.8" text-anchor="end">-2</text>
<text x="1582.5" y="1339.8" text-anchor="end">-4</text>
<text x="1632.5" y="1377.8" text-anchor="middle">-5</text>
<text x="1985.5" y="1377.8" text-anchor="middle">0</text>
<text x="2337.5" y="1377.8" text-anchor="middle">5</text>
</g>
<text x="1986.5" y="1433" text-anchor="middle" font-size="50.5" fill="#1a1a1a">Voltage (V)</text>
<text transform="translate(1515.3 1087.5) rotate(-90)" text-anchor="middle" font-size="51" fill="#1a1a1a">Current (µA)</text>
<text x="1713.2" y="891.5" font-size="60.5" font-weight="bold">GO</text>
</g>
<g filter="url(#b1)">
<use href="#d" x="1985.3" y="1069.3"/>
<use href="#d" x="1992.3" y="1072"/>
<use href="#d" x="1999.4" y="1074.5"/>
<use href="#d" x="2006.4" y="1074.8"/>
<use href="#d" x="2013.5" y="1073.2"/>
<use href="#d" x="2020.5" y="1071.9"/>
<use href="#d" x="2027.5" y="1070.6"/>
<use href="#d" x="2034.6" y="1069.9"/>
<use href="#d" x="2041.6" y="1069.8"/>
<use href="#d" x="2048.7" y="1069.6"/>
<use href="#d" x="2055.7" y="1069.5"/>
<use href="#d" x="2062.7" y="1069.4"/>
<use href="#d" x="2069.8" y="1069.4"/>
<use href="#d" x="2076.8" y="1069.3"/>
<use href="#d" x="2083.9" y="1069.3"/>
<use href="#d" x="2090.9" y="1069.3"/>
<use href="#d" x="2097.9" y="1069.3"/>
<use href="#d" x="2105" y="1069.3"/>
<use href="#d" x="2112" y="1069.3"/>
<use href="#d" x="2119.1" y="1069.3"/>
<use href="#d" x="2126.1" y="1069.3"/>
<use href="#d" x="2133.1" y="1069.3"/>
<use href="#d" x="2140.2" y="1068.9"/>
<use href="#d" x="2147.2" y="1067.8"/>
<use href="#d" x="2154.3" y="1066.2"/>
<use href="#d" x="2161.3" y="1061.9"/>
<use href="#d" x="2168.3" y="1054.8"/>
<use href="#d" x="2175.4" y="1047.9"/>
<use href="#d" x="2182.4" y="1042.1"/>
<use href="#d" x="2189.5" y="1036.5"/>
<use href="#d" x="2196.5" y="1030.8"/>
<use href="#d" x="2203.5" y="1025"/>
<use href="#d" x="2210.6" y="1018.9"/>
<use href="#d" x="2217.6" y="1012.8"/>
<use href="#d" x="2224.7" y="1006.4"/>
<use href="#d" x="2231.7" y="1000"/>
<use href="#d" x="2238.7" y="993.3"/>
<use href="#d" x="2245.8" y="986.4"/>
<use href="#d" x="2252.8" y="979.3"/>
<use href="#d" x="2259.9" y="972"/>
<use href="#d" x="2266.9" y="964.8"/>
<use href="#d" x="2273.9" y="958"/>
<use href="#d" x="2281" y="951.3"/>
<use href="#d" x="2288" y="944.6"/>
<use href="#d" x="2295.1" y="937.4"/>
<use href="#d" x="2302.1" y="929.7"/>
<use href="#d" x="2309.1" y="921.6"/>
<use href="#d" x="2316.2" y="912.2"/>
<use href="#d" x="2323.2" y="900.1"/>
<use href="#d" x="2330.3" y="885.2"/>
<use href="#d" x="2337.3" y="870"/>
<use href="#d" x="2339.4" y="865.2"/>
<use href="#d" x="2339.4" y="865.2"/>
<use href="#d" x="2337.3" y="868.2"/>
<use href="#d" x="2330.3" y="877.9"/>
<use href="#d" x="2323.2" y="886.7"/>
<use href="#d" x="2316.2" y="894.7"/>
<use href="#d" x="2309.1" y="902.1"/>
<use href="#d" x="2302.1" y="908"/>
<use href="#d" x="2295.1" y="912.8"/>
<use href="#d" x="2288" y="917.3"/>
<use href="#d" x="2281" y="922"/>
<use href="#d" x="2273.9" y="926.6"/>
<use href="#d" x="2266.9" y="931.1"/>
<use href="#d" x="2259.9" y="935.7"/>
<use href="#d" x="2252.8" y="940.3"/>
<use href="#d" x="2245.8" y="944.7"/>
<use href="#d" x="2238.7" y="948.9"/>
<use href="#d" x="2231.7" y="953.5"/>
<use href="#d" x="2224.7" y="958.7"/>
<use href="#d" x="2217.6" y="965.6"/>
<use href="#d" x="2210.6" y="973.7"/>
<use href="#d" x="2203.5" y="981.6"/>
<use href="#d" x="2196.5" y="988.8"/>
<use href="#d" x="2189.5" y="995.8"/>
<use href="#d" x="2182.4" y="1002.7"/>
<use href="#d" x="2175.4" y="1009.6"/>
<use href="#d" x="2168.3" y="1016.7"/>
<use href="#d" x="2161.3" y="1024.3"/>
<use href="#d" x="2154.3" y="1032.4"/>
<use href="#d" x="2147.2" y="1040.1"/>
<use href="#d" x="2140.2" y="1046.3"/>
<use href="#d" x="2133.1" y="1051.3"/>
<use href="#d" x="2126.1" y="1055.8"/>
<use href="#d" x="2119.1" y="1059.4"/>
<use href="#d" x="2112" y="1061.7"/>
<use href="#d" x="2105" y="1063.3"/>
<use href="#d" x="2097.9" y="1064.5"/>
<use href="#d" x="2090.9" y="1065.5"/>
<use href="#d" x="2083.9" y="1066.3"/>
<use href="#d" x="2076.8" y="1066.8"/>
<use href="#d" x="2069.8" y="1067.3"/>
<use href="#d" x="2062.7" y="1067.7"/>
<use href="#d" x="2055.7" y="1068"/>
<use href="#d" x="2048.7" y="1068.4"/>
<use href="#d" x="2041.6" y="1068.8"/>
<use href="#d" x="2034.6" y="1069.2"/>
<use href="#d" x="2027.5" y="1069.3"/>
<use href="#d" x="2020.5" y="1069.3"/>
<use href="#d" x="2013.5" y="1069.3"/>
<use href="#d" x="2006.4" y="1069.3"/>
<use href="#d" x="1999.4" y="1069.3"/>
<use href="#d" x="1992.3" y="1069.3"/>
<use href="#d" x="1985.3" y="1069.3"/>
<use href="#d" x="1985.3" y="1069.3"/>
<use href="#d" x="1978.3" y="1069.3"/>
<use href="#d" x="1971.2" y="1069.3"/>
<use href="#d" x="1964.2" y="1069.3"/>
<use href="#d" x="1957.1" y="1069.3"/>
<use href="#d" x="1950.1" y="1069.3"/>
<use href="#d" x="1943.1" y="1069.3"/>
<use href="#d" x="1936" y="1069.3"/>
<use href="#d" x="1929" y="1069.3"/>
<use href="#d" x="1921.9" y="1069.3"/>
<use href="#d" x="1914.9" y="1069.3"/>
<use href="#d" x="1907.9" y="1069.3"/>
<use href="#d" x="1900.8" y="1069.3"/>
<use href="#d" x="1893.8" y="1069.3"/>
<use href="#d" x="1886.7" y="1069.3"/>
<use href="#d" x="1879.7" y="1069.3"/>
<use href="#d" x="1872.7" y="1069.3"/>
<use href="#d" x="1865.6" y="1069.3"/>
<use href="#d" x="1858.6" y="1069.3"/>
<use href="#d" x="1851.5" y="1069.4"/>
<use href="#d" x="1844.5" y="1069.7"/>
<use href="#d" x="1837.5" y="1070.1"/>
<use href="#d" x="1830.4" y="1070.8"/>
<use href="#d" x="1823.4" y="1072.9"/>
<use href="#d" x="1816.3" y="1076.1"/>
<use href="#d" x="1809.3" y="1079.2"/>
<use href="#d" x="1802.3" y="1082.7"/>
<use href="#d" x="1795.2" y="1086.6"/>
<use href="#d" x="1788.2" y="1090.6"/>
<use href="#d" x="1781.1" y="1094.7"/>
<use href="#d" x="1774.1" y="1098.9"/>
<use href="#d" x="1767.1" y="1103.1"/>
<use href="#d" x="1760" y="1107.3"/>
<use href="#d" x="1753" y="1111.7"/>
<use href="#d" x="1745.9" y="1116.1"/>
<use href="#d" x="1738.9" y="1120.7"/>
<use href="#d" x="1731.9" y="1125.4"/>
<use href="#d" x="1724.8" y="1130.3"/>
<use href="#d" x="1717.8" y="1135.2"/>
<use href="#d" x="1710.7" y="1140.3"/>
<use href="#d" x="1703.7" y="1145.5"/>
<use href="#d" x="1696.7" y="1151"/>
<use href="#d" x="1689.6" y="1156.9"/>
<use href="#d" x="1682.6" y="1163.2"/>
<use href="#d" x="1675.5" y="1170.4"/>
<use href="#d" x="1668.5" y="1178.2"/>
<use href="#d" x="1661.5" y="1186.1"/>
<use href="#d" x="1654.4" y="1193.8"/>
<use href="#d" x="1647.4" y="1201.4"/>
<use href="#d" x="1640.3" y="1209"/>
<use href="#d" x="1639.6" y="1209.8"/>
<use href="#d" x="1639.6" y="1211.1"/>
<use href="#d" x="1640.3" y="1210.7"/>
<use href="#d" x="1647.4" y="1207"/>
<use href="#d" x="1654.4" y="1203"/>
<use href="#d" x="1661.5" y="1198.6"/>
<use href="#d" x="1668.5" y="1193.8"/>
<use href="#d" x="1675.5" y="1188.6"/>
<use href="#d" x="1682.6" y="1183.2"/>
<use href="#d" x="1689.6" y="1177.7"/>
<use href="#d" x="1696.7" y="1172.1"/>
<use href="#d" x="1703.7" y="1166.6"/>
<use href="#d" x="1710.7" y="1161.1"/>
<use href="#d" x="1717.8" y="1155.5"/>
<use href="#d" x="1724.8" y="1149.8"/>
<use href="#d" x="1731.9" y="1144"/>
<use href="#d" x="1738.9" y="1138.3"/>
<use href="#d" x="1745.9" y="1132.6"/>
<use href="#d" x="1753" y="1126.8"/>
<use href="#d" x="1760" y="1120.8"/>
<use href="#d" x="1767.1" y="1114.9"/>
<use href="#d" x="1774.1" y="1109.1"/>
<use href="#d" x="1781.1" y="1103.6"/>
<use href="#d" x="1788.2" y="1098.5"/>
<use href="#d" x="1795.2" y="1093.7"/>
<use href="#d" x="1802.3" y="1089"/>
<use href="#d" x="1809.3" y="1084.6"/>
<use href="#d" x="1816.3" y="1080.6"/>
<use href="#d" x="1823.4" y="1077"/>
<use href="#d" x="1830.4" y="1073.5"/>
<use href="#d" x="1837.5" y="1071.2"/>
<use href="#d" x="1844.5" y="1070.2"/>
<use href="#d" x="1851.5" y="1069.6"/>
<use href="#d" x="1858.6" y="1069.3"/>
<use href="#d" x="1865.6" y="1069.3"/>
<use href="#d" x="1872.7" y="1069.3"/>
<use href="#d" x="1879.7" y="1069.3"/>
<use href="#d" x="1886.7" y="1069.3"/>
<use href="#d" x="1893.8" y="1069.3"/>
<use href="#d" x="1900.8" y="1069.3"/>
<use href="#d" x="1907.9" y="1069.3"/>
<use href="#d" x="1914.9" y="1069.3"/>
<use href="#d" x="1921.9" y="1069.3"/>
<use href="#d" x="1929" y="1069.3"/>
<use href="#d" x="1936" y="1069.3"/>
<use href="#d" x="1943.1" y="1069.3"/>
<use href="#d" x="1950.1" y="1069.3"/>
<use href="#d" x="1957.1" y="1069.3"/>
<use href="#d" x="1964.2" y="1069.3"/>
<use href="#d" x="1971.2" y="1069.3"/>
<use href="#d" x="1978.3" y="1069.3"/>
<use href="#d" x="1985.3" y="1069.3"/>
</g>
</svg></body></html>
